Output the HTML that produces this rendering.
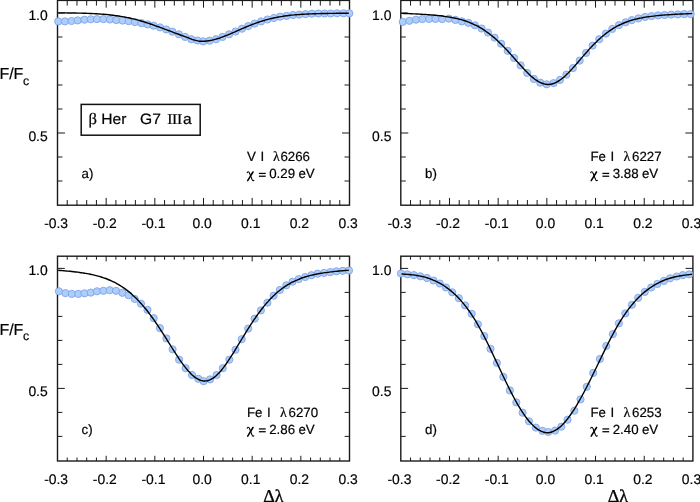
<!DOCTYPE html>
<html><head><meta charset="utf-8"><style>
html,body{margin:0;padding:0;background:#fff;width:700px;height:502px;overflow:hidden}
svg{display:block;will-change:transform}
text{fill:#000;stroke:#000;stroke-width:0.2px;text-rendering:geometricPrecision}
</style></head><body>
<svg width="700" height="502" viewBox="0 0 700 502">
<line x1="67.23" y1="205.20" x2="67.23" y2="200.00" stroke="#1a1a1a" stroke-width="1.0"/>
<line x1="67.23" y1="0.40" x2="67.23" y2="5.60" stroke="#1a1a1a" stroke-width="1.0"/>
<line x1="76.97" y1="205.20" x2="76.97" y2="200.00" stroke="#1a1a1a" stroke-width="1.0"/>
<line x1="76.97" y1="0.40" x2="76.97" y2="5.60" stroke="#1a1a1a" stroke-width="1.0"/>
<line x1="86.70" y1="205.20" x2="86.70" y2="200.00" stroke="#1a1a1a" stroke-width="1.0"/>
<line x1="86.70" y1="0.40" x2="86.70" y2="5.60" stroke="#1a1a1a" stroke-width="1.0"/>
<line x1="96.43" y1="205.20" x2="96.43" y2="200.00" stroke="#1a1a1a" stroke-width="1.0"/>
<line x1="96.43" y1="0.40" x2="96.43" y2="5.60" stroke="#1a1a1a" stroke-width="1.0"/>
<line x1="106.17" y1="205.20" x2="106.17" y2="197.90" stroke="#1a1a1a" stroke-width="1.0"/>
<line x1="106.17" y1="0.40" x2="106.17" y2="7.70" stroke="#1a1a1a" stroke-width="1.0"/>
<line x1="115.90" y1="205.20" x2="115.90" y2="200.00" stroke="#1a1a1a" stroke-width="1.0"/>
<line x1="115.90" y1="0.40" x2="115.90" y2="5.60" stroke="#1a1a1a" stroke-width="1.0"/>
<line x1="125.63" y1="205.20" x2="125.63" y2="200.00" stroke="#1a1a1a" stroke-width="1.0"/>
<line x1="125.63" y1="0.40" x2="125.63" y2="5.60" stroke="#1a1a1a" stroke-width="1.0"/>
<line x1="135.37" y1="205.20" x2="135.37" y2="200.00" stroke="#1a1a1a" stroke-width="1.0"/>
<line x1="135.37" y1="0.40" x2="135.37" y2="5.60" stroke="#1a1a1a" stroke-width="1.0"/>
<line x1="145.10" y1="205.20" x2="145.10" y2="200.00" stroke="#1a1a1a" stroke-width="1.0"/>
<line x1="145.10" y1="0.40" x2="145.10" y2="5.60" stroke="#1a1a1a" stroke-width="1.0"/>
<line x1="154.83" y1="205.20" x2="154.83" y2="197.90" stroke="#1a1a1a" stroke-width="1.0"/>
<line x1="154.83" y1="0.40" x2="154.83" y2="7.70" stroke="#1a1a1a" stroke-width="1.0"/>
<line x1="164.57" y1="205.20" x2="164.57" y2="200.00" stroke="#1a1a1a" stroke-width="1.0"/>
<line x1="164.57" y1="0.40" x2="164.57" y2="5.60" stroke="#1a1a1a" stroke-width="1.0"/>
<line x1="174.30" y1="205.20" x2="174.30" y2="200.00" stroke="#1a1a1a" stroke-width="1.0"/>
<line x1="174.30" y1="0.40" x2="174.30" y2="5.60" stroke="#1a1a1a" stroke-width="1.0"/>
<line x1="184.03" y1="205.20" x2="184.03" y2="200.00" stroke="#1a1a1a" stroke-width="1.0"/>
<line x1="184.03" y1="0.40" x2="184.03" y2="5.60" stroke="#1a1a1a" stroke-width="1.0"/>
<line x1="193.77" y1="205.20" x2="193.77" y2="200.00" stroke="#1a1a1a" stroke-width="1.0"/>
<line x1="193.77" y1="0.40" x2="193.77" y2="5.60" stroke="#1a1a1a" stroke-width="1.0"/>
<line x1="203.50" y1="205.20" x2="203.50" y2="197.90" stroke="#1a1a1a" stroke-width="1.0"/>
<line x1="203.50" y1="0.40" x2="203.50" y2="7.70" stroke="#1a1a1a" stroke-width="1.0"/>
<line x1="213.23" y1="205.20" x2="213.23" y2="200.00" stroke="#1a1a1a" stroke-width="1.0"/>
<line x1="213.23" y1="0.40" x2="213.23" y2="5.60" stroke="#1a1a1a" stroke-width="1.0"/>
<line x1="222.97" y1="205.20" x2="222.97" y2="200.00" stroke="#1a1a1a" stroke-width="1.0"/>
<line x1="222.97" y1="0.40" x2="222.97" y2="5.60" stroke="#1a1a1a" stroke-width="1.0"/>
<line x1="232.70" y1="205.20" x2="232.70" y2="200.00" stroke="#1a1a1a" stroke-width="1.0"/>
<line x1="232.70" y1="0.40" x2="232.70" y2="5.60" stroke="#1a1a1a" stroke-width="1.0"/>
<line x1="242.43" y1="205.20" x2="242.43" y2="200.00" stroke="#1a1a1a" stroke-width="1.0"/>
<line x1="242.43" y1="0.40" x2="242.43" y2="5.60" stroke="#1a1a1a" stroke-width="1.0"/>
<line x1="252.17" y1="205.20" x2="252.17" y2="197.90" stroke="#1a1a1a" stroke-width="1.0"/>
<line x1="252.17" y1="0.40" x2="252.17" y2="7.70" stroke="#1a1a1a" stroke-width="1.0"/>
<line x1="261.90" y1="205.20" x2="261.90" y2="200.00" stroke="#1a1a1a" stroke-width="1.0"/>
<line x1="261.90" y1="0.40" x2="261.90" y2="5.60" stroke="#1a1a1a" stroke-width="1.0"/>
<line x1="271.63" y1="205.20" x2="271.63" y2="200.00" stroke="#1a1a1a" stroke-width="1.0"/>
<line x1="271.63" y1="0.40" x2="271.63" y2="5.60" stroke="#1a1a1a" stroke-width="1.0"/>
<line x1="281.37" y1="205.20" x2="281.37" y2="200.00" stroke="#1a1a1a" stroke-width="1.0"/>
<line x1="281.37" y1="0.40" x2="281.37" y2="5.60" stroke="#1a1a1a" stroke-width="1.0"/>
<line x1="291.10" y1="205.20" x2="291.10" y2="200.00" stroke="#1a1a1a" stroke-width="1.0"/>
<line x1="291.10" y1="0.40" x2="291.10" y2="5.60" stroke="#1a1a1a" stroke-width="1.0"/>
<line x1="300.83" y1="205.20" x2="300.83" y2="197.90" stroke="#1a1a1a" stroke-width="1.0"/>
<line x1="300.83" y1="0.40" x2="300.83" y2="7.70" stroke="#1a1a1a" stroke-width="1.0"/>
<line x1="310.57" y1="205.20" x2="310.57" y2="200.00" stroke="#1a1a1a" stroke-width="1.0"/>
<line x1="310.57" y1="0.40" x2="310.57" y2="5.60" stroke="#1a1a1a" stroke-width="1.0"/>
<line x1="320.30" y1="205.20" x2="320.30" y2="200.00" stroke="#1a1a1a" stroke-width="1.0"/>
<line x1="320.30" y1="0.40" x2="320.30" y2="5.60" stroke="#1a1a1a" stroke-width="1.0"/>
<line x1="330.03" y1="205.20" x2="330.03" y2="200.00" stroke="#1a1a1a" stroke-width="1.0"/>
<line x1="330.03" y1="0.40" x2="330.03" y2="5.60" stroke="#1a1a1a" stroke-width="1.0"/>
<line x1="339.77" y1="205.20" x2="339.77" y2="200.00" stroke="#1a1a1a" stroke-width="1.0"/>
<line x1="339.77" y1="0.40" x2="339.77" y2="5.60" stroke="#1a1a1a" stroke-width="1.0"/>
<line x1="57.50" y1="181.00" x2="62.50" y2="181.00" stroke="#1a1a1a" stroke-width="1.0"/>
<line x1="349.50" y1="181.00" x2="344.50" y2="181.00" stroke="#1a1a1a" stroke-width="1.0"/>
<line x1="57.50" y1="157.00" x2="62.50" y2="157.00" stroke="#1a1a1a" stroke-width="1.0"/>
<line x1="349.50" y1="157.00" x2="344.50" y2="157.00" stroke="#1a1a1a" stroke-width="1.0"/>
<line x1="57.50" y1="133.00" x2="65.00" y2="133.00" stroke="#1a1a1a" stroke-width="1.0"/>
<line x1="349.50" y1="133.00" x2="342.00" y2="133.00" stroke="#1a1a1a" stroke-width="1.0"/>
<line x1="57.50" y1="109.00" x2="62.50" y2="109.00" stroke="#1a1a1a" stroke-width="1.0"/>
<line x1="349.50" y1="109.00" x2="344.50" y2="109.00" stroke="#1a1a1a" stroke-width="1.0"/>
<line x1="57.50" y1="85.00" x2="62.50" y2="85.00" stroke="#1a1a1a" stroke-width="1.0"/>
<line x1="349.50" y1="85.00" x2="344.50" y2="85.00" stroke="#1a1a1a" stroke-width="1.0"/>
<line x1="57.50" y1="61.00" x2="62.50" y2="61.00" stroke="#1a1a1a" stroke-width="1.0"/>
<line x1="349.50" y1="61.00" x2="344.50" y2="61.00" stroke="#1a1a1a" stroke-width="1.0"/>
<line x1="57.50" y1="37.00" x2="62.50" y2="37.00" stroke="#1a1a1a" stroke-width="1.0"/>
<line x1="349.50" y1="37.00" x2="344.50" y2="37.00" stroke="#1a1a1a" stroke-width="1.0"/>
<line x1="57.50" y1="13.00" x2="65.00" y2="13.00" stroke="#1a1a1a" stroke-width="1.0"/>
<line x1="349.50" y1="13.00" x2="342.00" y2="13.00" stroke="#1a1a1a" stroke-width="1.0"/>
<rect x="57.50" y="0.40" width="292.00" height="204.80" fill="none" stroke="#1a1a1a" stroke-width="1.4"/>
<line x1="410.54" y1="205.20" x2="410.54" y2="200.00" stroke="#1a1a1a" stroke-width="1.0"/>
<line x1="410.54" y1="0.40" x2="410.54" y2="5.60" stroke="#1a1a1a" stroke-width="1.0"/>
<line x1="420.27" y1="205.20" x2="420.27" y2="200.00" stroke="#1a1a1a" stroke-width="1.0"/>
<line x1="420.27" y1="0.40" x2="420.27" y2="5.60" stroke="#1a1a1a" stroke-width="1.0"/>
<line x1="430.01" y1="205.20" x2="430.01" y2="200.00" stroke="#1a1a1a" stroke-width="1.0"/>
<line x1="430.01" y1="0.40" x2="430.01" y2="5.60" stroke="#1a1a1a" stroke-width="1.0"/>
<line x1="439.75" y1="205.20" x2="439.75" y2="200.00" stroke="#1a1a1a" stroke-width="1.0"/>
<line x1="439.75" y1="0.40" x2="439.75" y2="5.60" stroke="#1a1a1a" stroke-width="1.0"/>
<line x1="449.48" y1="205.20" x2="449.48" y2="197.90" stroke="#1a1a1a" stroke-width="1.0"/>
<line x1="449.48" y1="0.40" x2="449.48" y2="7.70" stroke="#1a1a1a" stroke-width="1.0"/>
<line x1="459.22" y1="205.20" x2="459.22" y2="200.00" stroke="#1a1a1a" stroke-width="1.0"/>
<line x1="459.22" y1="0.40" x2="459.22" y2="5.60" stroke="#1a1a1a" stroke-width="1.0"/>
<line x1="468.96" y1="205.20" x2="468.96" y2="200.00" stroke="#1a1a1a" stroke-width="1.0"/>
<line x1="468.96" y1="0.40" x2="468.96" y2="5.60" stroke="#1a1a1a" stroke-width="1.0"/>
<line x1="478.69" y1="205.20" x2="478.69" y2="200.00" stroke="#1a1a1a" stroke-width="1.0"/>
<line x1="478.69" y1="0.40" x2="478.69" y2="5.60" stroke="#1a1a1a" stroke-width="1.0"/>
<line x1="488.43" y1="205.20" x2="488.43" y2="200.00" stroke="#1a1a1a" stroke-width="1.0"/>
<line x1="488.43" y1="0.40" x2="488.43" y2="5.60" stroke="#1a1a1a" stroke-width="1.0"/>
<line x1="498.17" y1="205.20" x2="498.17" y2="197.90" stroke="#1a1a1a" stroke-width="1.0"/>
<line x1="498.17" y1="0.40" x2="498.17" y2="7.70" stroke="#1a1a1a" stroke-width="1.0"/>
<line x1="507.90" y1="205.20" x2="507.90" y2="200.00" stroke="#1a1a1a" stroke-width="1.0"/>
<line x1="507.90" y1="0.40" x2="507.90" y2="5.60" stroke="#1a1a1a" stroke-width="1.0"/>
<line x1="517.64" y1="205.20" x2="517.64" y2="200.00" stroke="#1a1a1a" stroke-width="1.0"/>
<line x1="517.64" y1="0.40" x2="517.64" y2="5.60" stroke="#1a1a1a" stroke-width="1.0"/>
<line x1="527.38" y1="205.20" x2="527.38" y2="200.00" stroke="#1a1a1a" stroke-width="1.0"/>
<line x1="527.38" y1="0.40" x2="527.38" y2="5.60" stroke="#1a1a1a" stroke-width="1.0"/>
<line x1="537.11" y1="205.20" x2="537.11" y2="200.00" stroke="#1a1a1a" stroke-width="1.0"/>
<line x1="537.11" y1="0.40" x2="537.11" y2="5.60" stroke="#1a1a1a" stroke-width="1.0"/>
<line x1="546.85" y1="205.20" x2="546.85" y2="197.90" stroke="#1a1a1a" stroke-width="1.0"/>
<line x1="546.85" y1="0.40" x2="546.85" y2="7.70" stroke="#1a1a1a" stroke-width="1.0"/>
<line x1="556.59" y1="205.20" x2="556.59" y2="200.00" stroke="#1a1a1a" stroke-width="1.0"/>
<line x1="556.59" y1="0.40" x2="556.59" y2="5.60" stroke="#1a1a1a" stroke-width="1.0"/>
<line x1="566.32" y1="205.20" x2="566.32" y2="200.00" stroke="#1a1a1a" stroke-width="1.0"/>
<line x1="566.32" y1="0.40" x2="566.32" y2="5.60" stroke="#1a1a1a" stroke-width="1.0"/>
<line x1="576.06" y1="205.20" x2="576.06" y2="200.00" stroke="#1a1a1a" stroke-width="1.0"/>
<line x1="576.06" y1="0.40" x2="576.06" y2="5.60" stroke="#1a1a1a" stroke-width="1.0"/>
<line x1="585.80" y1="205.20" x2="585.80" y2="200.00" stroke="#1a1a1a" stroke-width="1.0"/>
<line x1="585.80" y1="0.40" x2="585.80" y2="5.60" stroke="#1a1a1a" stroke-width="1.0"/>
<line x1="595.53" y1="205.20" x2="595.53" y2="197.90" stroke="#1a1a1a" stroke-width="1.0"/>
<line x1="595.53" y1="0.40" x2="595.53" y2="7.70" stroke="#1a1a1a" stroke-width="1.0"/>
<line x1="605.27" y1="205.20" x2="605.27" y2="200.00" stroke="#1a1a1a" stroke-width="1.0"/>
<line x1="605.27" y1="0.40" x2="605.27" y2="5.60" stroke="#1a1a1a" stroke-width="1.0"/>
<line x1="615.01" y1="205.20" x2="615.01" y2="200.00" stroke="#1a1a1a" stroke-width="1.0"/>
<line x1="615.01" y1="0.40" x2="615.01" y2="5.60" stroke="#1a1a1a" stroke-width="1.0"/>
<line x1="624.74" y1="205.20" x2="624.74" y2="200.00" stroke="#1a1a1a" stroke-width="1.0"/>
<line x1="624.74" y1="0.40" x2="624.74" y2="5.60" stroke="#1a1a1a" stroke-width="1.0"/>
<line x1="634.48" y1="205.20" x2="634.48" y2="200.00" stroke="#1a1a1a" stroke-width="1.0"/>
<line x1="634.48" y1="0.40" x2="634.48" y2="5.60" stroke="#1a1a1a" stroke-width="1.0"/>
<line x1="644.22" y1="205.20" x2="644.22" y2="197.90" stroke="#1a1a1a" stroke-width="1.0"/>
<line x1="644.22" y1="0.40" x2="644.22" y2="7.70" stroke="#1a1a1a" stroke-width="1.0"/>
<line x1="653.95" y1="205.20" x2="653.95" y2="200.00" stroke="#1a1a1a" stroke-width="1.0"/>
<line x1="653.95" y1="0.40" x2="653.95" y2="5.60" stroke="#1a1a1a" stroke-width="1.0"/>
<line x1="663.69" y1="205.20" x2="663.69" y2="200.00" stroke="#1a1a1a" stroke-width="1.0"/>
<line x1="663.69" y1="0.40" x2="663.69" y2="5.60" stroke="#1a1a1a" stroke-width="1.0"/>
<line x1="673.43" y1="205.20" x2="673.43" y2="200.00" stroke="#1a1a1a" stroke-width="1.0"/>
<line x1="673.43" y1="0.40" x2="673.43" y2="5.60" stroke="#1a1a1a" stroke-width="1.0"/>
<line x1="683.16" y1="205.20" x2="683.16" y2="200.00" stroke="#1a1a1a" stroke-width="1.0"/>
<line x1="683.16" y1="0.40" x2="683.16" y2="5.60" stroke="#1a1a1a" stroke-width="1.0"/>
<line x1="400.80" y1="181.00" x2="405.80" y2="181.00" stroke="#1a1a1a" stroke-width="1.0"/>
<line x1="692.90" y1="181.00" x2="687.90" y2="181.00" stroke="#1a1a1a" stroke-width="1.0"/>
<line x1="400.80" y1="157.00" x2="405.80" y2="157.00" stroke="#1a1a1a" stroke-width="1.0"/>
<line x1="692.90" y1="157.00" x2="687.90" y2="157.00" stroke="#1a1a1a" stroke-width="1.0"/>
<line x1="400.80" y1="133.00" x2="408.30" y2="133.00" stroke="#1a1a1a" stroke-width="1.0"/>
<line x1="692.90" y1="133.00" x2="685.40" y2="133.00" stroke="#1a1a1a" stroke-width="1.0"/>
<line x1="400.80" y1="109.00" x2="405.80" y2="109.00" stroke="#1a1a1a" stroke-width="1.0"/>
<line x1="692.90" y1="109.00" x2="687.90" y2="109.00" stroke="#1a1a1a" stroke-width="1.0"/>
<line x1="400.80" y1="85.00" x2="405.80" y2="85.00" stroke="#1a1a1a" stroke-width="1.0"/>
<line x1="692.90" y1="85.00" x2="687.90" y2="85.00" stroke="#1a1a1a" stroke-width="1.0"/>
<line x1="400.80" y1="61.00" x2="405.80" y2="61.00" stroke="#1a1a1a" stroke-width="1.0"/>
<line x1="692.90" y1="61.00" x2="687.90" y2="61.00" stroke="#1a1a1a" stroke-width="1.0"/>
<line x1="400.80" y1="37.00" x2="405.80" y2="37.00" stroke="#1a1a1a" stroke-width="1.0"/>
<line x1="692.90" y1="37.00" x2="687.90" y2="37.00" stroke="#1a1a1a" stroke-width="1.0"/>
<line x1="400.80" y1="13.00" x2="408.30" y2="13.00" stroke="#1a1a1a" stroke-width="1.0"/>
<line x1="692.90" y1="13.00" x2="685.40" y2="13.00" stroke="#1a1a1a" stroke-width="1.0"/>
<rect x="400.80" y="0.40" width="292.10" height="204.80" fill="none" stroke="#1a1a1a" stroke-width="1.4"/>
<line x1="67.23" y1="461.00" x2="67.23" y2="457.50" stroke="#1a1a1a" stroke-width="1.0"/>
<line x1="67.23" y1="256.20" x2="67.23" y2="259.70" stroke="#1a1a1a" stroke-width="1.0"/>
<line x1="76.97" y1="461.00" x2="76.97" y2="457.50" stroke="#1a1a1a" stroke-width="1.0"/>
<line x1="76.97" y1="256.20" x2="76.97" y2="259.70" stroke="#1a1a1a" stroke-width="1.0"/>
<line x1="86.70" y1="461.00" x2="86.70" y2="457.50" stroke="#1a1a1a" stroke-width="1.0"/>
<line x1="86.70" y1="256.20" x2="86.70" y2="259.70" stroke="#1a1a1a" stroke-width="1.0"/>
<line x1="96.43" y1="461.00" x2="96.43" y2="457.50" stroke="#1a1a1a" stroke-width="1.0"/>
<line x1="96.43" y1="256.20" x2="96.43" y2="259.70" stroke="#1a1a1a" stroke-width="1.0"/>
<line x1="106.17" y1="461.00" x2="106.17" y2="455.80" stroke="#1a1a1a" stroke-width="1.0"/>
<line x1="106.17" y1="256.20" x2="106.17" y2="261.40" stroke="#1a1a1a" stroke-width="1.0"/>
<line x1="115.90" y1="461.00" x2="115.90" y2="457.50" stroke="#1a1a1a" stroke-width="1.0"/>
<line x1="115.90" y1="256.20" x2="115.90" y2="259.70" stroke="#1a1a1a" stroke-width="1.0"/>
<line x1="125.63" y1="461.00" x2="125.63" y2="457.50" stroke="#1a1a1a" stroke-width="1.0"/>
<line x1="125.63" y1="256.20" x2="125.63" y2="259.70" stroke="#1a1a1a" stroke-width="1.0"/>
<line x1="135.37" y1="461.00" x2="135.37" y2="457.50" stroke="#1a1a1a" stroke-width="1.0"/>
<line x1="135.37" y1="256.20" x2="135.37" y2="259.70" stroke="#1a1a1a" stroke-width="1.0"/>
<line x1="145.10" y1="461.00" x2="145.10" y2="457.50" stroke="#1a1a1a" stroke-width="1.0"/>
<line x1="145.10" y1="256.20" x2="145.10" y2="259.70" stroke="#1a1a1a" stroke-width="1.0"/>
<line x1="154.83" y1="461.00" x2="154.83" y2="455.80" stroke="#1a1a1a" stroke-width="1.0"/>
<line x1="154.83" y1="256.20" x2="154.83" y2="261.40" stroke="#1a1a1a" stroke-width="1.0"/>
<line x1="164.57" y1="461.00" x2="164.57" y2="457.50" stroke="#1a1a1a" stroke-width="1.0"/>
<line x1="164.57" y1="256.20" x2="164.57" y2="259.70" stroke="#1a1a1a" stroke-width="1.0"/>
<line x1="174.30" y1="461.00" x2="174.30" y2="457.50" stroke="#1a1a1a" stroke-width="1.0"/>
<line x1="174.30" y1="256.20" x2="174.30" y2="259.70" stroke="#1a1a1a" stroke-width="1.0"/>
<line x1="184.03" y1="461.00" x2="184.03" y2="457.50" stroke="#1a1a1a" stroke-width="1.0"/>
<line x1="184.03" y1="256.20" x2="184.03" y2="259.70" stroke="#1a1a1a" stroke-width="1.0"/>
<line x1="193.77" y1="461.00" x2="193.77" y2="457.50" stroke="#1a1a1a" stroke-width="1.0"/>
<line x1="193.77" y1="256.20" x2="193.77" y2="259.70" stroke="#1a1a1a" stroke-width="1.0"/>
<line x1="203.50" y1="461.00" x2="203.50" y2="455.80" stroke="#1a1a1a" stroke-width="1.0"/>
<line x1="203.50" y1="256.20" x2="203.50" y2="261.40" stroke="#1a1a1a" stroke-width="1.0"/>
<line x1="213.23" y1="461.00" x2="213.23" y2="457.50" stroke="#1a1a1a" stroke-width="1.0"/>
<line x1="213.23" y1="256.20" x2="213.23" y2="259.70" stroke="#1a1a1a" stroke-width="1.0"/>
<line x1="222.97" y1="461.00" x2="222.97" y2="457.50" stroke="#1a1a1a" stroke-width="1.0"/>
<line x1="222.97" y1="256.20" x2="222.97" y2="259.70" stroke="#1a1a1a" stroke-width="1.0"/>
<line x1="232.70" y1="461.00" x2="232.70" y2="457.50" stroke="#1a1a1a" stroke-width="1.0"/>
<line x1="232.70" y1="256.20" x2="232.70" y2="259.70" stroke="#1a1a1a" stroke-width="1.0"/>
<line x1="242.43" y1="461.00" x2="242.43" y2="457.50" stroke="#1a1a1a" stroke-width="1.0"/>
<line x1="242.43" y1="256.20" x2="242.43" y2="259.70" stroke="#1a1a1a" stroke-width="1.0"/>
<line x1="252.17" y1="461.00" x2="252.17" y2="455.80" stroke="#1a1a1a" stroke-width="1.0"/>
<line x1="252.17" y1="256.20" x2="252.17" y2="261.40" stroke="#1a1a1a" stroke-width="1.0"/>
<line x1="261.90" y1="461.00" x2="261.90" y2="457.50" stroke="#1a1a1a" stroke-width="1.0"/>
<line x1="261.90" y1="256.20" x2="261.90" y2="259.70" stroke="#1a1a1a" stroke-width="1.0"/>
<line x1="271.63" y1="461.00" x2="271.63" y2="457.50" stroke="#1a1a1a" stroke-width="1.0"/>
<line x1="271.63" y1="256.20" x2="271.63" y2="259.70" stroke="#1a1a1a" stroke-width="1.0"/>
<line x1="281.37" y1="461.00" x2="281.37" y2="457.50" stroke="#1a1a1a" stroke-width="1.0"/>
<line x1="281.37" y1="256.20" x2="281.37" y2="259.70" stroke="#1a1a1a" stroke-width="1.0"/>
<line x1="291.10" y1="461.00" x2="291.10" y2="457.50" stroke="#1a1a1a" stroke-width="1.0"/>
<line x1="291.10" y1="256.20" x2="291.10" y2="259.70" stroke="#1a1a1a" stroke-width="1.0"/>
<line x1="300.83" y1="461.00" x2="300.83" y2="455.80" stroke="#1a1a1a" stroke-width="1.0"/>
<line x1="300.83" y1="256.20" x2="300.83" y2="261.40" stroke="#1a1a1a" stroke-width="1.0"/>
<line x1="310.57" y1="461.00" x2="310.57" y2="457.50" stroke="#1a1a1a" stroke-width="1.0"/>
<line x1="310.57" y1="256.20" x2="310.57" y2="259.70" stroke="#1a1a1a" stroke-width="1.0"/>
<line x1="320.30" y1="461.00" x2="320.30" y2="457.50" stroke="#1a1a1a" stroke-width="1.0"/>
<line x1="320.30" y1="256.20" x2="320.30" y2="259.70" stroke="#1a1a1a" stroke-width="1.0"/>
<line x1="330.03" y1="461.00" x2="330.03" y2="457.50" stroke="#1a1a1a" stroke-width="1.0"/>
<line x1="330.03" y1="256.20" x2="330.03" y2="259.70" stroke="#1a1a1a" stroke-width="1.0"/>
<line x1="339.77" y1="461.00" x2="339.77" y2="457.50" stroke="#1a1a1a" stroke-width="1.0"/>
<line x1="339.77" y1="256.20" x2="339.77" y2="259.70" stroke="#1a1a1a" stroke-width="1.0"/>
<line x1="57.50" y1="436.40" x2="62.40" y2="436.40" stroke="#1a1a1a" stroke-width="1.0"/>
<line x1="349.50" y1="436.40" x2="344.60" y2="436.40" stroke="#1a1a1a" stroke-width="1.0"/>
<line x1="57.50" y1="412.40" x2="62.40" y2="412.40" stroke="#1a1a1a" stroke-width="1.0"/>
<line x1="349.50" y1="412.40" x2="344.60" y2="412.40" stroke="#1a1a1a" stroke-width="1.0"/>
<line x1="57.50" y1="388.40" x2="64.80" y2="388.40" stroke="#1a1a1a" stroke-width="1.0"/>
<line x1="349.50" y1="388.40" x2="342.20" y2="388.40" stroke="#1a1a1a" stroke-width="1.0"/>
<line x1="57.50" y1="364.40" x2="62.40" y2="364.40" stroke="#1a1a1a" stroke-width="1.0"/>
<line x1="349.50" y1="364.40" x2="344.60" y2="364.40" stroke="#1a1a1a" stroke-width="1.0"/>
<line x1="57.50" y1="340.40" x2="62.40" y2="340.40" stroke="#1a1a1a" stroke-width="1.0"/>
<line x1="349.50" y1="340.40" x2="344.60" y2="340.40" stroke="#1a1a1a" stroke-width="1.0"/>
<line x1="57.50" y1="316.40" x2="62.40" y2="316.40" stroke="#1a1a1a" stroke-width="1.0"/>
<line x1="349.50" y1="316.40" x2="344.60" y2="316.40" stroke="#1a1a1a" stroke-width="1.0"/>
<line x1="57.50" y1="292.40" x2="62.40" y2="292.40" stroke="#1a1a1a" stroke-width="1.0"/>
<line x1="349.50" y1="292.40" x2="344.60" y2="292.40" stroke="#1a1a1a" stroke-width="1.0"/>
<line x1="57.50" y1="268.40" x2="64.80" y2="268.40" stroke="#1a1a1a" stroke-width="1.0"/>
<line x1="349.50" y1="268.40" x2="342.20" y2="268.40" stroke="#1a1a1a" stroke-width="1.0"/>
<rect x="57.50" y="256.20" width="292.00" height="204.80" fill="none" stroke="#1a1a1a" stroke-width="1.4"/>
<line x1="410.54" y1="461.00" x2="410.54" y2="457.50" stroke="#1a1a1a" stroke-width="1.0"/>
<line x1="410.54" y1="256.20" x2="410.54" y2="259.70" stroke="#1a1a1a" stroke-width="1.0"/>
<line x1="420.27" y1="461.00" x2="420.27" y2="457.50" stroke="#1a1a1a" stroke-width="1.0"/>
<line x1="420.27" y1="256.20" x2="420.27" y2="259.70" stroke="#1a1a1a" stroke-width="1.0"/>
<line x1="430.01" y1="461.00" x2="430.01" y2="457.50" stroke="#1a1a1a" stroke-width="1.0"/>
<line x1="430.01" y1="256.20" x2="430.01" y2="259.70" stroke="#1a1a1a" stroke-width="1.0"/>
<line x1="439.75" y1="461.00" x2="439.75" y2="457.50" stroke="#1a1a1a" stroke-width="1.0"/>
<line x1="439.75" y1="256.20" x2="439.75" y2="259.70" stroke="#1a1a1a" stroke-width="1.0"/>
<line x1="449.48" y1="461.00" x2="449.48" y2="455.80" stroke="#1a1a1a" stroke-width="1.0"/>
<line x1="449.48" y1="256.20" x2="449.48" y2="261.40" stroke="#1a1a1a" stroke-width="1.0"/>
<line x1="459.22" y1="461.00" x2="459.22" y2="457.50" stroke="#1a1a1a" stroke-width="1.0"/>
<line x1="459.22" y1="256.20" x2="459.22" y2="259.70" stroke="#1a1a1a" stroke-width="1.0"/>
<line x1="468.96" y1="461.00" x2="468.96" y2="457.50" stroke="#1a1a1a" stroke-width="1.0"/>
<line x1="468.96" y1="256.20" x2="468.96" y2="259.70" stroke="#1a1a1a" stroke-width="1.0"/>
<line x1="478.69" y1="461.00" x2="478.69" y2="457.50" stroke="#1a1a1a" stroke-width="1.0"/>
<line x1="478.69" y1="256.20" x2="478.69" y2="259.70" stroke="#1a1a1a" stroke-width="1.0"/>
<line x1="488.43" y1="461.00" x2="488.43" y2="457.50" stroke="#1a1a1a" stroke-width="1.0"/>
<line x1="488.43" y1="256.20" x2="488.43" y2="259.70" stroke="#1a1a1a" stroke-width="1.0"/>
<line x1="498.17" y1="461.00" x2="498.17" y2="455.80" stroke="#1a1a1a" stroke-width="1.0"/>
<line x1="498.17" y1="256.20" x2="498.17" y2="261.40" stroke="#1a1a1a" stroke-width="1.0"/>
<line x1="507.90" y1="461.00" x2="507.90" y2="457.50" stroke="#1a1a1a" stroke-width="1.0"/>
<line x1="507.90" y1="256.20" x2="507.90" y2="259.70" stroke="#1a1a1a" stroke-width="1.0"/>
<line x1="517.64" y1="461.00" x2="517.64" y2="457.50" stroke="#1a1a1a" stroke-width="1.0"/>
<line x1="517.64" y1="256.20" x2="517.64" y2="259.70" stroke="#1a1a1a" stroke-width="1.0"/>
<line x1="527.38" y1="461.00" x2="527.38" y2="457.50" stroke="#1a1a1a" stroke-width="1.0"/>
<line x1="527.38" y1="256.20" x2="527.38" y2="259.70" stroke="#1a1a1a" stroke-width="1.0"/>
<line x1="537.11" y1="461.00" x2="537.11" y2="457.50" stroke="#1a1a1a" stroke-width="1.0"/>
<line x1="537.11" y1="256.20" x2="537.11" y2="259.70" stroke="#1a1a1a" stroke-width="1.0"/>
<line x1="546.85" y1="461.00" x2="546.85" y2="455.80" stroke="#1a1a1a" stroke-width="1.0"/>
<line x1="546.85" y1="256.20" x2="546.85" y2="261.40" stroke="#1a1a1a" stroke-width="1.0"/>
<line x1="556.59" y1="461.00" x2="556.59" y2="457.50" stroke="#1a1a1a" stroke-width="1.0"/>
<line x1="556.59" y1="256.20" x2="556.59" y2="259.70" stroke="#1a1a1a" stroke-width="1.0"/>
<line x1="566.32" y1="461.00" x2="566.32" y2="457.50" stroke="#1a1a1a" stroke-width="1.0"/>
<line x1="566.32" y1="256.20" x2="566.32" y2="259.70" stroke="#1a1a1a" stroke-width="1.0"/>
<line x1="576.06" y1="461.00" x2="576.06" y2="457.50" stroke="#1a1a1a" stroke-width="1.0"/>
<line x1="576.06" y1="256.20" x2="576.06" y2="259.70" stroke="#1a1a1a" stroke-width="1.0"/>
<line x1="585.80" y1="461.00" x2="585.80" y2="457.50" stroke="#1a1a1a" stroke-width="1.0"/>
<line x1="585.80" y1="256.20" x2="585.80" y2="259.70" stroke="#1a1a1a" stroke-width="1.0"/>
<line x1="595.53" y1="461.00" x2="595.53" y2="455.80" stroke="#1a1a1a" stroke-width="1.0"/>
<line x1="595.53" y1="256.20" x2="595.53" y2="261.40" stroke="#1a1a1a" stroke-width="1.0"/>
<line x1="605.27" y1="461.00" x2="605.27" y2="457.50" stroke="#1a1a1a" stroke-width="1.0"/>
<line x1="605.27" y1="256.20" x2="605.27" y2="259.70" stroke="#1a1a1a" stroke-width="1.0"/>
<line x1="615.01" y1="461.00" x2="615.01" y2="457.50" stroke="#1a1a1a" stroke-width="1.0"/>
<line x1="615.01" y1="256.20" x2="615.01" y2="259.70" stroke="#1a1a1a" stroke-width="1.0"/>
<line x1="624.74" y1="461.00" x2="624.74" y2="457.50" stroke="#1a1a1a" stroke-width="1.0"/>
<line x1="624.74" y1="256.20" x2="624.74" y2="259.70" stroke="#1a1a1a" stroke-width="1.0"/>
<line x1="634.48" y1="461.00" x2="634.48" y2="457.50" stroke="#1a1a1a" stroke-width="1.0"/>
<line x1="634.48" y1="256.20" x2="634.48" y2="259.70" stroke="#1a1a1a" stroke-width="1.0"/>
<line x1="644.22" y1="461.00" x2="644.22" y2="455.80" stroke="#1a1a1a" stroke-width="1.0"/>
<line x1="644.22" y1="256.20" x2="644.22" y2="261.40" stroke="#1a1a1a" stroke-width="1.0"/>
<line x1="653.95" y1="461.00" x2="653.95" y2="457.50" stroke="#1a1a1a" stroke-width="1.0"/>
<line x1="653.95" y1="256.20" x2="653.95" y2="259.70" stroke="#1a1a1a" stroke-width="1.0"/>
<line x1="663.69" y1="461.00" x2="663.69" y2="457.50" stroke="#1a1a1a" stroke-width="1.0"/>
<line x1="663.69" y1="256.20" x2="663.69" y2="259.70" stroke="#1a1a1a" stroke-width="1.0"/>
<line x1="673.43" y1="461.00" x2="673.43" y2="457.50" stroke="#1a1a1a" stroke-width="1.0"/>
<line x1="673.43" y1="256.20" x2="673.43" y2="259.70" stroke="#1a1a1a" stroke-width="1.0"/>
<line x1="683.16" y1="461.00" x2="683.16" y2="457.50" stroke="#1a1a1a" stroke-width="1.0"/>
<line x1="683.16" y1="256.20" x2="683.16" y2="259.70" stroke="#1a1a1a" stroke-width="1.0"/>
<line x1="400.80" y1="436.40" x2="405.70" y2="436.40" stroke="#1a1a1a" stroke-width="1.0"/>
<line x1="692.90" y1="436.40" x2="688.00" y2="436.40" stroke="#1a1a1a" stroke-width="1.0"/>
<line x1="400.80" y1="412.40" x2="405.70" y2="412.40" stroke="#1a1a1a" stroke-width="1.0"/>
<line x1="692.90" y1="412.40" x2="688.00" y2="412.40" stroke="#1a1a1a" stroke-width="1.0"/>
<line x1="400.80" y1="388.40" x2="408.10" y2="388.40" stroke="#1a1a1a" stroke-width="1.0"/>
<line x1="692.90" y1="388.40" x2="685.60" y2="388.40" stroke="#1a1a1a" stroke-width="1.0"/>
<line x1="400.80" y1="364.40" x2="405.70" y2="364.40" stroke="#1a1a1a" stroke-width="1.0"/>
<line x1="692.90" y1="364.40" x2="688.00" y2="364.40" stroke="#1a1a1a" stroke-width="1.0"/>
<line x1="400.80" y1="340.40" x2="405.70" y2="340.40" stroke="#1a1a1a" stroke-width="1.0"/>
<line x1="692.90" y1="340.40" x2="688.00" y2="340.40" stroke="#1a1a1a" stroke-width="1.0"/>
<line x1="400.80" y1="316.40" x2="405.70" y2="316.40" stroke="#1a1a1a" stroke-width="1.0"/>
<line x1="692.90" y1="316.40" x2="688.00" y2="316.40" stroke="#1a1a1a" stroke-width="1.0"/>
<line x1="400.80" y1="292.40" x2="405.70" y2="292.40" stroke="#1a1a1a" stroke-width="1.0"/>
<line x1="692.90" y1="292.40" x2="688.00" y2="292.40" stroke="#1a1a1a" stroke-width="1.0"/>
<line x1="400.80" y1="268.40" x2="408.10" y2="268.40" stroke="#1a1a1a" stroke-width="1.0"/>
<line x1="692.90" y1="268.40" x2="685.60" y2="268.40" stroke="#1a1a1a" stroke-width="1.0"/>
<rect x="400.80" y="256.20" width="292.10" height="204.80" fill="none" stroke="#1a1a1a" stroke-width="1.4"/>
<circle cx="58.20" cy="21.40" r="3.6" fill="#aecdf9" stroke="#7ea5ea" stroke-width="0.9"/>
<circle cx="64.90" cy="21.40" r="3.6" fill="#aecdf9" stroke="#7ea5ea" stroke-width="0.9"/>
<circle cx="71.50" cy="21.00" r="3.6" fill="#aecdf9" stroke="#7ea5ea" stroke-width="0.9"/>
<circle cx="77.70" cy="20.40" r="3.6" fill="#aecdf9" stroke="#7ea5ea" stroke-width="0.9"/>
<circle cx="84.40" cy="19.70" r="3.6" fill="#aecdf9" stroke="#7ea5ea" stroke-width="0.9"/>
<circle cx="90.80" cy="19.30" r="3.6" fill="#aecdf9" stroke="#7ea5ea" stroke-width="0.9"/>
<circle cx="97.00" cy="19.10" r="3.6" fill="#aecdf9" stroke="#7ea5ea" stroke-width="0.9"/>
<circle cx="103.40" cy="19.10" r="3.6" fill="#aecdf9" stroke="#7ea5ea" stroke-width="0.9"/>
<circle cx="109.90" cy="19.50" r="3.6" fill="#aecdf9" stroke="#7ea5ea" stroke-width="0.9"/>
<circle cx="116.30" cy="20.10" r="3.6" fill="#aecdf9" stroke="#7ea5ea" stroke-width="0.9"/>
<circle cx="122.50" cy="20.60" r="3.6" fill="#aecdf9" stroke="#7ea5ea" stroke-width="0.9"/>
<circle cx="128.70" cy="21.20" r="3.6" fill="#aecdf9" stroke="#7ea5ea" stroke-width="0.9"/>
<circle cx="134.90" cy="22.10" r="3.6" fill="#aecdf9" stroke="#7ea5ea" stroke-width="0.9"/>
<circle cx="141.40" cy="23.10" r="3.6" fill="#aecdf9" stroke="#7ea5ea" stroke-width="0.9"/>
<circle cx="147.60" cy="24.40" r="3.6" fill="#aecdf9" stroke="#7ea5ea" stroke-width="0.9"/>
<circle cx="153.60" cy="25.70" r="3.6" fill="#aecdf9" stroke="#7ea5ea" stroke-width="0.9"/>
<circle cx="160.00" cy="27.40" r="3.6" fill="#aecdf9" stroke="#7ea5ea" stroke-width="0.9"/>
<circle cx="166.20" cy="29.40" r="3.6" fill="#aecdf9" stroke="#7ea5ea" stroke-width="0.9"/>
<circle cx="172.40" cy="31.70" r="3.6" fill="#aecdf9" stroke="#7ea5ea" stroke-width="0.9"/>
<circle cx="178.90" cy="34.30" r="3.6" fill="#aecdf9" stroke="#7ea5ea" stroke-width="0.9"/>
<circle cx="185.10" cy="36.90" r="3.6" fill="#aecdf9" stroke="#7ea5ea" stroke-width="0.9"/>
<circle cx="191.30" cy="39.20" r="3.6" fill="#aecdf9" stroke="#7ea5ea" stroke-width="0.9"/>
<circle cx="197.50" cy="40.50" r="3.6" fill="#aecdf9" stroke="#7ea5ea" stroke-width="0.9"/>
<circle cx="203.20" cy="41.40" r="3.6" fill="#aecdf9" stroke="#7ea5ea" stroke-width="0.9"/>
<circle cx="209.60" cy="40.70" r="3.6" fill="#aecdf9" stroke="#7ea5ea" stroke-width="0.9"/>
<circle cx="216.10" cy="39.20" r="3.6" fill="#aecdf9" stroke="#7ea5ea" stroke-width="0.9"/>
<circle cx="222.50" cy="36.90" r="3.6" fill="#aecdf9" stroke="#7ea5ea" stroke-width="0.9"/>
<circle cx="229.10" cy="34.30" r="3.6" fill="#aecdf9" stroke="#7ea5ea" stroke-width="0.9"/>
<circle cx="235.60" cy="31.50" r="3.6" fill="#aecdf9" stroke="#7ea5ea" stroke-width="0.9"/>
<circle cx="242.00" cy="28.70" r="3.6" fill="#aecdf9" stroke="#7ea5ea" stroke-width="0.9"/>
<circle cx="248.20" cy="26.10" r="3.6" fill="#aecdf9" stroke="#7ea5ea" stroke-width="0.9"/>
<circle cx="254.60" cy="23.60" r="3.6" fill="#aecdf9" stroke="#7ea5ea" stroke-width="0.9"/>
<circle cx="261.10" cy="21.40" r="3.6" fill="#aecdf9" stroke="#7ea5ea" stroke-width="0.9"/>
<circle cx="267.50" cy="19.50" r="3.6" fill="#aecdf9" stroke="#7ea5ea" stroke-width="0.9"/>
<circle cx="273.90" cy="18.00" r="3.6" fill="#aecdf9" stroke="#7ea5ea" stroke-width="0.9"/>
<circle cx="280.10" cy="16.70" r="3.6" fill="#aecdf9" stroke="#7ea5ea" stroke-width="0.9"/>
<circle cx="286.60" cy="15.90" r="3.6" fill="#aecdf9" stroke="#7ea5ea" stroke-width="0.9"/>
<circle cx="293.00" cy="15.00" r="3.6" fill="#aecdf9" stroke="#7ea5ea" stroke-width="0.9"/>
<circle cx="299.20" cy="14.60" r="3.6" fill="#aecdf9" stroke="#7ea5ea" stroke-width="0.9"/>
<circle cx="305.60" cy="14.10" r="3.6" fill="#aecdf9" stroke="#7ea5ea" stroke-width="0.9"/>
<circle cx="311.90" cy="13.70" r="3.6" fill="#aecdf9" stroke="#7ea5ea" stroke-width="0.9"/>
<circle cx="318.30" cy="13.50" r="3.6" fill="#aecdf9" stroke="#7ea5ea" stroke-width="0.9"/>
<circle cx="324.50" cy="13.50" r="3.6" fill="#aecdf9" stroke="#7ea5ea" stroke-width="0.9"/>
<circle cx="330.70" cy="13.50" r="3.6" fill="#aecdf9" stroke="#7ea5ea" stroke-width="0.9"/>
<circle cx="337.10" cy="13.30" r="3.6" fill="#aecdf9" stroke="#7ea5ea" stroke-width="0.9"/>
<circle cx="343.60" cy="13.30" r="3.6" fill="#aecdf9" stroke="#7ea5ea" stroke-width="0.9"/>
<circle cx="349.30" cy="13.30" r="3.6" fill="#aecdf9" stroke="#7ea5ea" stroke-width="0.9"/>
<circle cx="402.70" cy="21.90" r="3.6" fill="#aecdf9" stroke="#7ea5ea" stroke-width="0.9"/>
<circle cx="409.40" cy="20.80" r="3.6" fill="#aecdf9" stroke="#7ea5ea" stroke-width="0.9"/>
<circle cx="416.00" cy="19.70" r="3.6" fill="#aecdf9" stroke="#7ea5ea" stroke-width="0.9"/>
<circle cx="422.40" cy="19.10" r="3.6" fill="#aecdf9" stroke="#7ea5ea" stroke-width="0.9"/>
<circle cx="429.10" cy="18.90" r="3.6" fill="#aecdf9" stroke="#7ea5ea" stroke-width="0.9"/>
<circle cx="435.50" cy="18.90" r="3.6" fill="#aecdf9" stroke="#7ea5ea" stroke-width="0.9"/>
<circle cx="442.10" cy="19.10" r="3.6" fill="#aecdf9" stroke="#7ea5ea" stroke-width="0.9"/>
<circle cx="448.80" cy="18.60" r="3.6" fill="#aecdf9" stroke="#7ea5ea" stroke-width="0.9"/>
<circle cx="455.40" cy="19.90" r="3.6" fill="#aecdf9" stroke="#7ea5ea" stroke-width="0.9"/>
<circle cx="461.90" cy="21.40" r="3.6" fill="#aecdf9" stroke="#7ea5ea" stroke-width="0.9"/>
<circle cx="468.50" cy="22.90" r="3.6" fill="#aecdf9" stroke="#7ea5ea" stroke-width="0.9"/>
<circle cx="474.90" cy="25.30" r="3.6" fill="#aecdf9" stroke="#7ea5ea" stroke-width="0.9"/>
<circle cx="481.60" cy="28.50" r="3.6" fill="#aecdf9" stroke="#7ea5ea" stroke-width="0.9"/>
<circle cx="488.00" cy="32.60" r="3.6" fill="#aecdf9" stroke="#7ea5ea" stroke-width="0.9"/>
<circle cx="494.60" cy="37.70" r="3.6" fill="#aecdf9" stroke="#7ea5ea" stroke-width="0.9"/>
<circle cx="501.10" cy="43.70" r="3.6" fill="#aecdf9" stroke="#7ea5ea" stroke-width="0.9"/>
<circle cx="507.70" cy="50.80" r="3.6" fill="#aecdf9" stroke="#7ea5ea" stroke-width="0.9"/>
<circle cx="514.10" cy="57.90" r="3.6" fill="#aecdf9" stroke="#7ea5ea" stroke-width="0.9"/>
<circle cx="520.60" cy="65.40" r="3.6" fill="#aecdf9" stroke="#7ea5ea" stroke-width="0.9"/>
<circle cx="527.20" cy="72.90" r="3.6" fill="#aecdf9" stroke="#7ea5ea" stroke-width="0.9"/>
<circle cx="533.90" cy="78.90" r="3.6" fill="#aecdf9" stroke="#7ea5ea" stroke-width="0.9"/>
<circle cx="540.30" cy="82.70" r="3.6" fill="#aecdf9" stroke="#7ea5ea" stroke-width="0.9"/>
<circle cx="546.70" cy="84.30" r="3.6" fill="#aecdf9" stroke="#7ea5ea" stroke-width="0.9"/>
<circle cx="553.60" cy="83.10" r="3.6" fill="#aecdf9" stroke="#7ea5ea" stroke-width="0.9"/>
<circle cx="560.00" cy="79.90" r="3.6" fill="#aecdf9" stroke="#7ea5ea" stroke-width="0.9"/>
<circle cx="566.40" cy="74.60" r="3.6" fill="#aecdf9" stroke="#7ea5ea" stroke-width="0.9"/>
<circle cx="572.90" cy="68.10" r="3.6" fill="#aecdf9" stroke="#7ea5ea" stroke-width="0.9"/>
<circle cx="579.70" cy="60.60" r="3.6" fill="#aecdf9" stroke="#7ea5ea" stroke-width="0.9"/>
<circle cx="586.10" cy="52.90" r="3.6" fill="#aecdf9" stroke="#7ea5ea" stroke-width="0.9"/>
<circle cx="592.60" cy="45.60" r="3.6" fill="#aecdf9" stroke="#7ea5ea" stroke-width="0.9"/>
<circle cx="599.20" cy="39.20" r="3.6" fill="#aecdf9" stroke="#7ea5ea" stroke-width="0.9"/>
<circle cx="605.90" cy="33.60" r="3.6" fill="#aecdf9" stroke="#7ea5ea" stroke-width="0.9"/>
<circle cx="612.30" cy="28.90" r="3.6" fill="#aecdf9" stroke="#7ea5ea" stroke-width="0.9"/>
<circle cx="618.90" cy="25.10" r="3.6" fill="#aecdf9" stroke="#7ea5ea" stroke-width="0.9"/>
<circle cx="625.60" cy="22.30" r="3.6" fill="#aecdf9" stroke="#7ea5ea" stroke-width="0.9"/>
<circle cx="631.80" cy="20.10" r="3.6" fill="#aecdf9" stroke="#7ea5ea" stroke-width="0.9"/>
<circle cx="638.40" cy="18.40" r="3.6" fill="#aecdf9" stroke="#7ea5ea" stroke-width="0.9"/>
<circle cx="645.10" cy="16.90" r="3.6" fill="#aecdf9" stroke="#7ea5ea" stroke-width="0.9"/>
<circle cx="651.50" cy="16.10" r="3.6" fill="#aecdf9" stroke="#7ea5ea" stroke-width="0.9"/>
<circle cx="658.10" cy="15.40" r="3.6" fill="#aecdf9" stroke="#7ea5ea" stroke-width="0.9"/>
<circle cx="664.60" cy="15.00" r="3.6" fill="#aecdf9" stroke="#7ea5ea" stroke-width="0.9"/>
<circle cx="671.20" cy="14.60" r="3.6" fill="#aecdf9" stroke="#7ea5ea" stroke-width="0.9"/>
<circle cx="677.80" cy="14.40" r="3.6" fill="#aecdf9" stroke="#7ea5ea" stroke-width="0.9"/>
<circle cx="684.30" cy="14.10" r="3.6" fill="#aecdf9" stroke="#7ea5ea" stroke-width="0.9"/>
<circle cx="690.70" cy="14.10" r="3.6" fill="#aecdf9" stroke="#7ea5ea" stroke-width="0.9"/>
<circle cx="58.90" cy="291.30" r="3.6" fill="#aecdf9" stroke="#7ea5ea" stroke-width="0.9"/>
<circle cx="65.40" cy="293.10" r="3.6" fill="#aecdf9" stroke="#7ea5ea" stroke-width="0.9"/>
<circle cx="71.80" cy="293.90" r="3.6" fill="#aecdf9" stroke="#7ea5ea" stroke-width="0.9"/>
<circle cx="78.30" cy="293.90" r="3.6" fill="#aecdf9" stroke="#7ea5ea" stroke-width="0.9"/>
<circle cx="84.50" cy="293.30" r="3.6" fill="#aecdf9" stroke="#7ea5ea" stroke-width="0.9"/>
<circle cx="90.80" cy="292.60" r="3.6" fill="#aecdf9" stroke="#7ea5ea" stroke-width="0.9"/>
<circle cx="97.00" cy="291.30" r="3.6" fill="#aecdf9" stroke="#7ea5ea" stroke-width="0.9"/>
<circle cx="103.40" cy="290.80" r="3.6" fill="#aecdf9" stroke="#7ea5ea" stroke-width="0.9"/>
<circle cx="109.70" cy="290.20" r="3.6" fill="#aecdf9" stroke="#7ea5ea" stroke-width="0.9"/>
<circle cx="116.10" cy="290.80" r="3.6" fill="#aecdf9" stroke="#7ea5ea" stroke-width="0.9"/>
<circle cx="122.40" cy="292.80" r="3.6" fill="#aecdf9" stroke="#7ea5ea" stroke-width="0.9"/>
<circle cx="128.60" cy="295.20" r="3.6" fill="#aecdf9" stroke="#7ea5ea" stroke-width="0.9"/>
<circle cx="134.80" cy="299.00" r="3.6" fill="#aecdf9" stroke="#7ea5ea" stroke-width="0.9"/>
<circle cx="141.00" cy="303.70" r="3.6" fill="#aecdf9" stroke="#7ea5ea" stroke-width="0.9"/>
<circle cx="147.50" cy="309.90" r="3.6" fill="#aecdf9" stroke="#7ea5ea" stroke-width="0.9"/>
<circle cx="153.70" cy="318.20" r="3.6" fill="#aecdf9" stroke="#7ea5ea" stroke-width="0.9"/>
<circle cx="159.90" cy="328.10" r="3.6" fill="#aecdf9" stroke="#7ea5ea" stroke-width="0.9"/>
<circle cx="166.40" cy="338.40" r="3.6" fill="#aecdf9" stroke="#7ea5ea" stroke-width="0.9"/>
<circle cx="172.60" cy="349.30" r="3.6" fill="#aecdf9" stroke="#7ea5ea" stroke-width="0.9"/>
<circle cx="179.10" cy="359.70" r="3.6" fill="#aecdf9" stroke="#7ea5ea" stroke-width="0.9"/>
<circle cx="185.60" cy="368.20" r="3.6" fill="#aecdf9" stroke="#7ea5ea" stroke-width="0.9"/>
<circle cx="192.00" cy="375.00" r="3.6" fill="#aecdf9" stroke="#7ea5ea" stroke-width="0.9"/>
<circle cx="198.30" cy="378.80" r="3.6" fill="#aecdf9" stroke="#7ea5ea" stroke-width="0.9"/>
<circle cx="203.60" cy="381.20" r="3.6" fill="#aecdf9" stroke="#7ea5ea" stroke-width="0.9"/>
<circle cx="210.10" cy="379.40" r="3.6" fill="#aecdf9" stroke="#7ea5ea" stroke-width="0.9"/>
<circle cx="216.60" cy="375.00" r="3.6" fill="#aecdf9" stroke="#7ea5ea" stroke-width="0.9"/>
<circle cx="222.80" cy="368.20" r="3.6" fill="#aecdf9" stroke="#7ea5ea" stroke-width="0.9"/>
<circle cx="229.30" cy="359.70" r="3.6" fill="#aecdf9" stroke="#7ea5ea" stroke-width="0.9"/>
<circle cx="235.50" cy="349.80" r="3.6" fill="#aecdf9" stroke="#7ea5ea" stroke-width="0.9"/>
<circle cx="241.70" cy="339.20" r="3.6" fill="#aecdf9" stroke="#7ea5ea" stroke-width="0.9"/>
<circle cx="248.20" cy="328.60" r="3.6" fill="#aecdf9" stroke="#7ea5ea" stroke-width="0.9"/>
<circle cx="254.70" cy="318.70" r="3.6" fill="#aecdf9" stroke="#7ea5ea" stroke-width="0.9"/>
<circle cx="260.90" cy="310.40" r="3.6" fill="#aecdf9" stroke="#7ea5ea" stroke-width="0.9"/>
<circle cx="267.40" cy="302.70" r="3.6" fill="#aecdf9" stroke="#7ea5ea" stroke-width="0.9"/>
<circle cx="273.60" cy="295.70" r="3.6" fill="#aecdf9" stroke="#7ea5ea" stroke-width="0.9"/>
<circle cx="279.80" cy="290.00" r="3.6" fill="#aecdf9" stroke="#7ea5ea" stroke-width="0.9"/>
<circle cx="286.30" cy="285.30" r="3.6" fill="#aecdf9" stroke="#7ea5ea" stroke-width="0.9"/>
<circle cx="292.50" cy="281.70" r="3.6" fill="#aecdf9" stroke="#7ea5ea" stroke-width="0.9"/>
<circle cx="298.70" cy="279.10" r="3.6" fill="#aecdf9" stroke="#7ea5ea" stroke-width="0.9"/>
<circle cx="305.20" cy="277.00" r="3.6" fill="#aecdf9" stroke="#7ea5ea" stroke-width="0.9"/>
<circle cx="311.40" cy="275.20" r="3.6" fill="#aecdf9" stroke="#7ea5ea" stroke-width="0.9"/>
<circle cx="317.60" cy="273.70" r="3.6" fill="#aecdf9" stroke="#7ea5ea" stroke-width="0.9"/>
<circle cx="324.10" cy="272.90" r="3.6" fill="#aecdf9" stroke="#7ea5ea" stroke-width="0.9"/>
<circle cx="330.30" cy="272.10" r="3.6" fill="#aecdf9" stroke="#7ea5ea" stroke-width="0.9"/>
<circle cx="336.50" cy="271.30" r="3.6" fill="#aecdf9" stroke="#7ea5ea" stroke-width="0.9"/>
<circle cx="342.70" cy="270.80" r="3.6" fill="#aecdf9" stroke="#7ea5ea" stroke-width="0.9"/>
<circle cx="349.00" cy="270.50" r="3.6" fill="#aecdf9" stroke="#7ea5ea" stroke-width="0.9"/>
<circle cx="401.00" cy="273.50" r="3.6" fill="#aecdf9" stroke="#7ea5ea" stroke-width="0.9"/>
<circle cx="407.40" cy="274.30" r="3.6" fill="#aecdf9" stroke="#7ea5ea" stroke-width="0.9"/>
<circle cx="413.90" cy="275.10" r="3.6" fill="#aecdf9" stroke="#7ea5ea" stroke-width="0.9"/>
<circle cx="420.30" cy="276.30" r="3.6" fill="#aecdf9" stroke="#7ea5ea" stroke-width="0.9"/>
<circle cx="426.90" cy="277.90" r="3.6" fill="#aecdf9" stroke="#7ea5ea" stroke-width="0.9"/>
<circle cx="433.50" cy="280.50" r="3.6" fill="#aecdf9" stroke="#7ea5ea" stroke-width="0.9"/>
<circle cx="439.80" cy="283.50" r="3.6" fill="#aecdf9" stroke="#7ea5ea" stroke-width="0.9"/>
<circle cx="446.00" cy="287.50" r="3.6" fill="#aecdf9" stroke="#7ea5ea" stroke-width="0.9"/>
<circle cx="452.20" cy="292.30" r="3.6" fill="#aecdf9" stroke="#7ea5ea" stroke-width="0.9"/>
<circle cx="458.80" cy="298.20" r="3.6" fill="#aecdf9" stroke="#7ea5ea" stroke-width="0.9"/>
<circle cx="465.10" cy="305.40" r="3.6" fill="#aecdf9" stroke="#7ea5ea" stroke-width="0.9"/>
<circle cx="471.70" cy="313.80" r="3.6" fill="#aecdf9" stroke="#7ea5ea" stroke-width="0.9"/>
<circle cx="477.90" cy="324.30" r="3.6" fill="#aecdf9" stroke="#7ea5ea" stroke-width="0.9"/>
<circle cx="484.30" cy="336.10" r="3.6" fill="#aecdf9" stroke="#7ea5ea" stroke-width="0.9"/>
<circle cx="490.50" cy="348.80" r="3.6" fill="#aecdf9" stroke="#7ea5ea" stroke-width="0.9"/>
<circle cx="496.90" cy="362.90" r="3.6" fill="#aecdf9" stroke="#7ea5ea" stroke-width="0.9"/>
<circle cx="503.30" cy="376.90" r="3.6" fill="#aecdf9" stroke="#7ea5ea" stroke-width="0.9"/>
<circle cx="509.90" cy="390.40" r="3.6" fill="#aecdf9" stroke="#7ea5ea" stroke-width="0.9"/>
<circle cx="516.30" cy="402.40" r="3.6" fill="#aecdf9" stroke="#7ea5ea" stroke-width="0.9"/>
<circle cx="522.60" cy="412.70" r="3.6" fill="#aecdf9" stroke="#7ea5ea" stroke-width="0.9"/>
<circle cx="529.00" cy="421.30" r="3.6" fill="#aecdf9" stroke="#7ea5ea" stroke-width="0.9"/>
<circle cx="535.80" cy="427.60" r="3.6" fill="#aecdf9" stroke="#7ea5ea" stroke-width="0.9"/>
<circle cx="542.40" cy="430.80" r="3.6" fill="#aecdf9" stroke="#7ea5ea" stroke-width="0.9"/>
<circle cx="548.30" cy="432.00" r="3.6" fill="#aecdf9" stroke="#7ea5ea" stroke-width="0.9"/>
<circle cx="555.10" cy="430.60" r="3.6" fill="#aecdf9" stroke="#7ea5ea" stroke-width="0.9"/>
<circle cx="561.30" cy="426.70" r="3.6" fill="#aecdf9" stroke="#7ea5ea" stroke-width="0.9"/>
<circle cx="567.50" cy="419.70" r="3.6" fill="#aecdf9" stroke="#7ea5ea" stroke-width="0.9"/>
<circle cx="574.30" cy="410.70" r="3.6" fill="#aecdf9" stroke="#7ea5ea" stroke-width="0.9"/>
<circle cx="580.50" cy="399.40" r="3.6" fill="#aecdf9" stroke="#7ea5ea" stroke-width="0.9"/>
<circle cx="586.80" cy="386.80" r="3.6" fill="#aecdf9" stroke="#7ea5ea" stroke-width="0.9"/>
<circle cx="593.20" cy="372.90" r="3.6" fill="#aecdf9" stroke="#7ea5ea" stroke-width="0.9"/>
<circle cx="599.90" cy="359.00" r="3.6" fill="#aecdf9" stroke="#7ea5ea" stroke-width="0.9"/>
<circle cx="606.30" cy="346.00" r="3.6" fill="#aecdf9" stroke="#7ea5ea" stroke-width="0.9"/>
<circle cx="612.90" cy="334.10" r="3.6" fill="#aecdf9" stroke="#7ea5ea" stroke-width="0.9"/>
<circle cx="618.90" cy="323.30" r="3.6" fill="#aecdf9" stroke="#7ea5ea" stroke-width="0.9"/>
<circle cx="625.30" cy="313.40" r="3.6" fill="#aecdf9" stroke="#7ea5ea" stroke-width="0.9"/>
<circle cx="631.90" cy="304.80" r="3.6" fill="#aecdf9" stroke="#7ea5ea" stroke-width="0.9"/>
<circle cx="638.20" cy="297.80" r="3.6" fill="#aecdf9" stroke="#7ea5ea" stroke-width="0.9"/>
<circle cx="644.80" cy="291.90" r="3.6" fill="#aecdf9" stroke="#7ea5ea" stroke-width="0.9"/>
<circle cx="651.20" cy="287.50" r="3.6" fill="#aecdf9" stroke="#7ea5ea" stroke-width="0.9"/>
<circle cx="657.40" cy="283.90" r="3.6" fill="#aecdf9" stroke="#7ea5ea" stroke-width="0.9"/>
<circle cx="663.90" cy="280.90" r="3.6" fill="#aecdf9" stroke="#7ea5ea" stroke-width="0.9"/>
<circle cx="670.10" cy="278.30" r="3.6" fill="#aecdf9" stroke="#7ea5ea" stroke-width="0.9"/>
<circle cx="676.70" cy="276.50" r="3.6" fill="#aecdf9" stroke="#7ea5ea" stroke-width="0.9"/>
<circle cx="682.80" cy="275.10" r="3.6" fill="#aecdf9" stroke="#7ea5ea" stroke-width="0.9"/>
<circle cx="689.20" cy="274.30" r="3.6" fill="#aecdf9" stroke="#7ea5ea" stroke-width="0.9"/>
<path d="M58.20,12.86 C58.53,12.86 59.50,12.87 60.15,12.87 C60.80,12.88 61.45,12.88 62.10,12.88 C62.75,12.89 63.40,12.89 64.05,12.90 C64.70,12.91 65.35,12.91 66.00,12.92 C66.65,12.92 67.30,12.93 67.95,12.94 C68.60,12.94 69.25,12.95 69.90,12.96 C70.55,12.97 71.20,12.98 71.85,12.99 C72.50,12.99 73.15,13.00 73.80,13.01 C74.45,13.03 75.10,13.04 75.75,13.05 C76.40,13.06 77.05,13.07 77.70,13.09 C78.35,13.10 79.00,13.11 79.65,13.13 C80.30,13.14 80.95,13.16 81.60,13.17 C82.25,13.19 82.90,13.21 83.55,13.23 C84.20,13.25 84.85,13.27 85.50,13.29 C86.15,13.31 86.80,13.33 87.46,13.35 C88.11,13.38 88.76,13.40 89.41,13.43 C90.06,13.45 90.71,13.48 91.36,13.51 C92.01,13.54 92.66,13.57 93.31,13.60 C93.96,13.63 94.61,13.67 95.26,13.70 C95.91,13.74 96.56,13.78 97.21,13.81 C97.86,13.85 98.51,13.90 99.16,13.94 C99.81,13.98 100.46,14.03 101.11,14.08 C101.76,14.12 102.41,14.17 103.06,14.22 C103.71,14.28 104.36,14.33 105.01,14.39 C105.66,14.45 106.31,14.51 106.96,14.57 C107.61,14.63 108.26,14.70 108.91,14.76 C109.56,14.83 110.21,14.90 110.86,14.98 C111.51,15.05 112.16,15.13 112.81,15.21 C113.46,15.29 114.11,15.37 114.76,15.46 C115.41,15.54 116.06,15.63 116.71,15.73 C117.36,15.82 118.01,15.92 118.66,16.02 C119.31,16.12 119.96,16.22 120.61,16.33 C121.26,16.44 121.91,16.55 122.56,16.66 C123.21,16.78 123.86,16.90 124.51,17.02 C125.16,17.14 125.81,17.27 126.46,17.40 C127.11,17.53 127.76,17.66 128.41,17.80 C129.06,17.94 129.71,18.08 130.36,18.23 C131.01,18.37 131.66,18.52 132.31,18.68 C132.96,18.83 133.61,18.99 134.26,19.15 C134.91,19.31 135.56,19.48 136.21,19.65 C136.86,19.82 137.51,19.99 138.16,20.17 C138.81,20.35 139.46,20.53 140.11,20.72 C140.76,20.90 141.41,21.09 142.06,21.28 C142.71,21.47 143.36,21.67 144.01,21.87 C144.66,22.07 145.31,22.27 145.97,22.48 C146.62,22.69 147.27,22.90 147.92,23.11 C148.57,23.32 149.22,23.54 149.87,23.75 C150.52,23.97 151.17,24.19 151.82,24.42 C152.47,24.64 153.12,24.87 153.77,25.09 C154.42,25.32 155.07,25.55 155.72,25.79 C156.37,26.02 157.02,26.25 157.67,26.49 C158.32,26.72 158.97,26.96 159.62,27.20 C160.27,27.44 160.92,27.68 161.57,27.92 C162.22,28.16 162.87,28.40 163.52,28.65 C164.17,28.89 164.82,29.13 165.47,29.38 C166.12,29.62 166.77,29.86 167.42,30.11 C168.07,30.35 168.72,30.60 169.37,30.84 C170.02,31.08 170.67,31.33 171.32,31.57 C171.97,31.82 172.62,32.06 173.27,32.31 C173.92,32.55 174.57,32.79 175.22,33.04 C175.87,33.28 176.52,33.52 177.17,33.76 C177.82,34.01 178.47,34.25 179.12,34.49 C179.77,34.74 180.42,34.98 181.07,35.22 C181.72,35.46 182.37,35.71 183.02,35.95 C183.67,36.19 184.32,36.44 184.97,36.68 C185.62,36.93 186.27,37.17 186.92,37.41 C187.57,37.66 188.22,37.90 188.87,38.14 C189.52,38.38 190.17,38.62 190.82,38.86 C191.47,39.09 192.12,39.32 192.77,39.54 C193.42,39.76 194.07,39.97 194.72,40.17 C195.37,40.36 196.02,40.54 196.67,40.69 C197.32,40.84 197.97,40.98 198.62,41.08 C199.27,41.17 199.92,41.24 200.57,41.27 C201.22,41.31 201.87,41.30 202.52,41.28 C203.17,41.27 203.83,41.24 204.48,41.20 C205.13,41.16 205.78,41.10 206.43,41.03 C207.08,40.96 207.73,40.88 208.38,40.78 C209.03,40.69 209.68,40.58 210.33,40.46 C210.98,40.34 211.63,40.21 212.28,40.06 C212.93,39.92 213.58,39.76 214.23,39.60 C214.88,39.43 215.53,39.25 216.18,39.07 C216.83,38.88 217.48,38.68 218.13,38.48 C218.78,38.28 219.43,38.06 220.08,37.84 C220.73,37.62 221.38,37.39 222.03,37.15 C222.68,36.92 223.33,36.67 223.98,36.42 C224.63,36.17 225.28,35.92 225.93,35.66 C226.58,35.40 227.23,35.13 227.88,34.86 C228.53,34.60 229.18,34.32 229.83,34.05 C230.48,33.77 231.13,33.49 231.78,33.21 C232.43,32.93 233.08,32.65 233.73,32.36 C234.38,32.08 235.03,31.79 235.68,31.50 C236.33,31.22 236.98,30.93 237.63,30.64 C238.28,30.36 238.93,30.07 239.58,29.79 C240.23,29.50 240.88,29.21 241.53,28.93 C242.18,28.65 242.83,28.37 243.48,28.09 C244.13,27.81 244.78,27.53 245.43,27.26 C246.08,26.98 246.73,26.71 247.38,26.44 C248.03,26.17 248.68,25.91 249.33,25.65 C249.98,25.38 250.63,25.13 251.28,24.87 C251.93,24.62 252.58,24.37 253.23,24.12 C253.88,23.88 254.53,23.63 255.18,23.40 C255.83,23.16 256.48,22.93 257.13,22.70 C257.78,22.47 258.43,22.25 259.08,22.03 C259.73,21.81 260.38,21.60 261.03,21.39 C261.69,21.19 262.34,20.98 262.99,20.78 C263.64,20.59 264.29,20.39 264.94,20.21 C265.59,20.02 266.24,19.84 266.89,19.66 C267.54,19.48 268.19,19.31 268.84,19.14 C269.49,18.98 270.14,18.82 270.79,18.66 C271.44,18.50 272.09,18.35 272.74,18.20 C273.39,18.06 274.04,17.92 274.69,17.78 C275.34,17.64 275.99,17.51 276.64,17.38 C277.29,17.25 277.94,17.13 278.59,17.01 C279.24,16.89 279.89,16.78 280.54,16.67 C281.19,16.56 281.84,16.45 282.49,16.35 C283.14,16.25 283.79,16.15 284.44,16.06 C285.09,15.97 285.74,15.88 286.39,15.79 C287.04,15.70 287.69,15.62 288.34,15.54 C288.99,15.46 289.64,15.39 290.29,15.32 C290.94,15.24 291.59,15.18 292.24,15.11 C292.89,15.04 293.54,14.98 294.19,14.92 C294.84,14.86 295.49,14.80 296.14,14.75 C296.79,14.69 297.44,14.64 298.09,14.59 C298.74,14.54 299.39,14.50 300.04,14.45 C300.69,14.41 301.34,14.36 301.99,14.32 C302.64,14.28 303.29,14.24 303.94,14.20 C304.59,14.17 305.24,14.13 305.89,14.10 C306.54,14.07 307.19,14.03 307.84,14.00 C308.49,13.97 309.14,13.95 309.79,13.92 C310.44,13.89 311.09,13.87 311.74,13.84 C312.39,13.82 313.04,13.79 313.69,13.77 C314.34,13.75 314.99,13.73 315.64,13.71 C316.29,13.69 316.94,13.67 317.59,13.65 C318.24,13.63 318.89,13.62 319.54,13.60 C320.20,13.58 320.85,13.57 321.50,13.55 C322.15,13.54 322.80,13.53 323.45,13.51 C324.10,13.50 324.75,13.49 325.40,13.47 C326.05,13.46 326.70,13.45 327.35,13.44 C328.00,13.43 328.65,13.42 329.30,13.41 C329.95,13.40 330.60,13.39 331.25,13.38 C331.90,13.37 332.55,13.36 333.20,13.35 C333.85,13.35 334.50,13.34 335.15,13.33 C335.80,13.32 336.45,13.32 337.10,13.31 C337.75,13.30 338.40,13.30 339.05,13.29 C339.70,13.28 340.35,13.28 341.00,13.27 C341.65,13.26 342.30,13.26 342.95,13.25 C343.60,13.25 344.25,13.24 344.90,13.24 C345.55,13.23 346.20,13.23 346.85,13.22 C347.50,13.22 348.47,13.21 348.80,13.21" fill="none" stroke="#000" stroke-width="1.4"/>
<path d="M401.50,13.37 C401.83,13.38 402.80,13.42 403.45,13.44 C404.10,13.46 404.75,13.49 405.40,13.51 C406.05,13.53 406.70,13.56 407.35,13.58 C408.00,13.61 408.65,13.64 409.30,13.66 C409.95,13.69 410.60,13.72 411.26,13.74 C411.91,13.77 412.56,13.80 413.21,13.83 C413.86,13.86 414.51,13.89 415.16,13.92 C415.81,13.95 416.46,13.98 417.11,14.02 C417.76,14.05 418.41,14.08 419.06,14.12 C419.71,14.15 420.36,14.19 421.01,14.23 C421.66,14.26 422.31,14.30 422.96,14.34 C423.61,14.38 424.26,14.42 424.91,14.46 C425.56,14.50 426.21,14.55 426.86,14.59 C427.51,14.64 428.16,14.68 428.81,14.73 C429.46,14.78 430.11,14.83 430.77,14.88 C431.42,14.93 432.07,14.99 432.72,15.04 C433.37,15.10 434.02,15.16 434.67,15.22 C435.32,15.28 435.97,15.34 436.62,15.40 C437.27,15.47 437.92,15.54 438.57,15.61 C439.22,15.68 439.87,15.75 440.52,15.82 C441.17,15.90 441.82,15.98 442.47,16.06 C443.12,16.15 443.77,16.23 444.42,16.32 C445.07,16.41 445.72,16.50 446.37,16.60 C447.02,16.70 447.67,16.80 448.32,16.91 C448.97,17.01 449.62,17.12 450.28,17.24 C450.93,17.35 451.58,17.47 452.23,17.60 C452.88,17.72 453.53,17.85 454.18,17.99 C454.83,18.13 455.48,18.27 456.13,18.42 C456.78,18.57 457.43,18.72 458.08,18.88 C458.73,19.04 459.38,19.21 460.03,19.38 C460.68,19.56 461.33,19.74 461.98,19.93 C462.63,20.12 463.28,20.32 463.93,20.53 C464.58,20.73 465.23,20.94 465.88,21.17 C466.53,21.39 467.18,21.62 467.83,21.86 C468.48,22.10 469.13,22.35 469.79,22.61 C470.44,22.87 471.09,23.14 471.74,23.42 C472.39,23.70 473.04,23.99 473.69,24.29 C474.34,24.59 474.99,24.91 475.64,25.23 C476.29,25.55 476.94,25.88 477.59,26.23 C478.24,26.58 478.89,26.93 479.54,27.30 C480.19,27.67 480.84,28.05 481.49,28.45 C482.14,28.84 482.79,29.25 483.44,29.67 C484.09,30.08 484.74,30.52 485.39,30.96 C486.04,31.40 486.69,31.86 487.34,32.33 C487.99,32.80 488.64,33.28 489.30,33.78 C489.95,34.27 490.60,34.78 491.25,35.30 C491.90,35.82 492.55,36.36 493.20,36.90 C493.85,37.45 494.50,38.01 495.15,38.58 C495.80,39.15 496.45,39.74 497.10,40.33 C497.75,40.93 498.40,41.54 499.05,42.16 C499.70,42.78 500.35,43.41 501.00,44.05 C501.65,44.69 502.30,45.34 502.95,46.00 C503.60,46.67 504.25,47.34 504.90,48.02 C505.55,48.70 506.20,49.39 506.85,50.09 C507.50,50.78 508.16,51.49 508.81,52.20 C509.46,52.91 510.11,53.63 510.76,54.35 C511.41,55.08 512.06,55.80 512.71,56.53 C513.36,57.26 514.01,58.00 514.66,58.73 C515.31,59.47 515.96,60.21 516.61,60.94 C517.26,61.68 517.91,62.41 518.56,63.14 C519.21,63.87 519.86,64.60 520.51,65.33 C521.16,66.05 521.81,66.77 522.46,67.47 C523.11,68.18 523.76,68.89 524.41,69.57 C525.06,70.26 525.71,70.94 526.36,71.61 C527.01,72.27 527.67,72.92 528.32,73.56 C528.97,74.19 529.62,74.81 530.27,75.40 C530.92,76.00 531.57,76.57 532.22,77.13 C532.87,77.68 533.52,78.21 534.17,78.71 C534.82,79.21 535.47,79.69 536.12,80.13 C536.77,80.58 537.42,80.99 538.07,81.38 C538.72,81.76 539.37,82.11 540.02,82.43 C540.67,82.75 541.32,83.03 541.97,83.27 C542.62,83.52 543.27,83.73 543.92,83.90 C544.57,84.07 545.22,84.20 545.87,84.29 C546.52,84.38 547.18,84.44 547.83,84.45 C548.48,84.46 549.13,84.44 549.78,84.37 C550.43,84.30 551.08,84.19 551.73,84.04 C552.38,83.89 553.03,83.70 553.68,83.48 C554.33,83.25 554.98,82.98 555.63,82.68 C556.28,82.38 556.93,82.04 557.58,81.67 C558.23,81.29 558.88,80.88 559.53,80.44 C560.18,80.01 560.83,79.53 561.48,79.03 C562.13,78.53 562.78,78.00 563.43,77.45 C564.08,76.90 564.73,76.32 565.38,75.72 C566.03,75.11 566.69,74.49 567.34,73.85 C567.99,73.21 568.64,72.54 569.29,71.87 C569.94,71.19 570.59,70.49 571.24,69.79 C571.89,69.09 572.54,68.37 573.19,67.64 C573.84,66.91 574.49,66.18 575.14,65.43 C575.79,64.69 576.44,63.94 577.09,63.19 C577.74,62.44 578.39,61.68 579.04,60.92 C579.69,60.16 580.34,59.40 580.99,58.65 C581.64,57.89 582.29,57.13 582.94,56.38 C583.59,55.63 584.24,54.88 584.89,54.13 C585.54,53.39 586.20,52.65 586.85,51.92 C587.50,51.19 588.15,50.46 588.80,49.75 C589.45,49.03 590.10,48.32 590.75,47.62 C591.40,46.92 592.05,46.24 592.70,45.56 C593.35,44.88 594.00,44.21 594.65,43.56 C595.30,42.90 595.95,42.26 596.60,41.63 C597.25,41.00 597.90,40.38 598.55,39.78 C599.20,39.17 599.85,38.58 600.50,38.00 C601.15,37.42 601.80,36.86 602.45,36.31 C603.10,35.76 603.75,35.22 604.40,34.70 C605.06,34.17 605.71,33.66 606.36,33.17 C607.01,32.67 607.66,32.19 608.31,31.72 C608.96,31.26 609.61,30.80 610.26,30.36 C610.91,29.92 611.56,29.50 612.21,29.08 C612.86,28.67 613.51,28.27 614.16,27.89 C614.81,27.50 615.46,27.13 616.11,26.76 C616.76,26.40 617.41,26.06 618.06,25.72 C618.71,25.38 619.36,25.06 620.01,24.75 C620.66,24.43 621.31,24.13 621.96,23.84 C622.61,23.55 623.26,23.28 623.91,23.01 C624.57,22.74 625.22,22.48 625.87,22.23 C626.52,21.98 627.17,21.75 627.82,21.52 C628.47,21.29 629.12,21.07 629.77,20.86 C630.42,20.65 631.07,20.45 631.72,20.25 C632.37,20.06 633.02,19.87 633.67,19.69 C634.32,19.52 634.97,19.35 635.62,19.18 C636.27,19.02 636.92,18.86 637.57,18.71 C638.22,18.56 638.87,18.42 639.52,18.28 C640.17,18.14 640.82,18.01 641.47,17.88 C642.12,17.75 642.77,17.63 643.42,17.52 C644.08,17.40 644.73,17.29 645.38,17.18 C646.03,17.08 646.68,16.97 647.33,16.87 C647.98,16.78 648.63,16.68 649.28,16.59 C649.93,16.50 650.58,16.41 651.23,16.33 C651.88,16.25 652.53,16.17 653.18,16.09 C653.83,16.01 654.48,15.94 655.13,15.87 C655.78,15.80 656.43,15.73 657.08,15.67 C657.73,15.60 658.38,15.54 659.03,15.48 C659.68,15.41 660.33,15.36 660.98,15.30 C661.63,15.24 662.28,15.19 662.93,15.14 C663.59,15.08 664.24,15.03 664.89,14.98 C665.54,14.93 666.19,14.89 666.84,14.84 C667.49,14.79 668.14,14.75 668.79,14.71 C669.44,14.66 670.09,14.62 670.74,14.58 C671.39,14.54 672.04,14.50 672.69,14.46 C673.34,14.42 673.99,14.39 674.64,14.35 C675.29,14.31 675.94,14.28 676.59,14.24 C677.24,14.21 677.89,14.18 678.54,14.14 C679.19,14.11 679.84,14.08 680.49,14.05 C681.14,14.02 681.79,13.99 682.44,13.96 C683.10,13.93 683.75,13.90 684.40,13.87 C685.05,13.84 685.70,13.82 686.35,13.79 C687.00,13.76 687.65,13.74 688.30,13.71 C688.95,13.69 689.60,13.66 690.25,13.64 C690.90,13.61 691.87,13.58 692.20,13.56" fill="none" stroke="#000" stroke-width="1.4"/>
<path d="M58.20,270.31 C58.53,270.34 59.50,270.41 60.15,270.45 C60.80,270.50 61.45,270.55 62.10,270.60 C62.75,270.66 63.40,270.71 64.05,270.76 C64.70,270.82 65.35,270.87 66.00,270.93 C66.65,270.99 67.30,271.05 67.95,271.11 C68.60,271.17 69.25,271.23 69.90,271.30 C70.55,271.36 71.20,271.43 71.85,271.50 C72.50,271.57 73.15,271.64 73.80,271.71 C74.45,271.78 75.10,271.86 75.75,271.94 C76.40,272.02 77.05,272.10 77.70,272.18 C78.35,272.26 79.00,272.35 79.65,272.44 C80.30,272.53 80.95,272.62 81.60,272.72 C82.25,272.82 82.90,272.91 83.55,273.02 C84.20,273.12 84.85,273.23 85.50,273.34 C86.15,273.45 86.80,273.56 87.46,273.68 C88.11,273.80 88.76,273.93 89.41,274.05 C90.06,274.18 90.71,274.32 91.36,274.45 C92.01,274.59 92.66,274.74 93.31,274.88 C93.96,275.03 94.61,275.19 95.26,275.35 C95.91,275.51 96.56,275.68 97.21,275.85 C97.86,276.02 98.51,276.20 99.16,276.39 C99.81,276.57 100.46,276.77 101.11,276.97 C101.76,277.17 102.41,277.38 103.06,277.59 C103.71,277.81 104.36,278.03 105.01,278.27 C105.66,278.50 106.31,278.74 106.96,278.99 C107.61,279.24 108.26,279.50 108.91,279.77 C109.56,280.04 110.21,280.32 110.86,280.61 C111.51,280.90 112.16,281.20 112.81,281.51 C113.46,281.83 114.11,282.15 114.76,282.48 C115.41,282.81 116.06,283.16 116.71,283.52 C117.36,283.87 118.01,284.24 118.66,284.62 C119.31,285.01 119.96,285.40 120.61,285.81 C121.26,286.22 121.91,286.64 122.56,287.07 C123.21,287.51 123.86,287.95 124.51,288.42 C125.16,288.88 125.81,289.36 126.46,289.85 C127.11,290.34 127.76,290.85 128.41,291.37 C129.06,291.89 129.71,292.43 130.36,292.98 C131.01,293.53 131.66,294.10 132.31,294.68 C132.96,295.27 133.61,295.87 134.26,296.48 C134.91,297.10 135.56,297.73 136.21,298.37 C136.86,299.02 137.51,299.69 138.16,300.37 C138.81,301.05 139.46,301.74 140.11,302.46 C140.76,303.17 141.41,303.90 142.06,304.64 C142.71,305.39 143.36,306.15 144.01,306.92 C144.66,307.70 145.31,308.49 145.97,309.30 C146.62,310.11 147.27,310.94 147.92,311.77 C148.57,312.61 149.22,313.47 149.87,314.34 C150.52,315.20 151.17,316.09 151.82,316.98 C152.47,317.88 153.12,318.79 153.77,319.71 C154.42,320.64 155.07,321.57 155.72,322.52 C156.37,323.47 157.02,324.43 157.67,325.40 C158.32,326.37 158.97,327.35 159.62,328.34 C160.27,329.33 160.92,330.33 161.57,331.33 C162.22,332.34 162.87,333.35 163.52,334.37 C164.17,335.39 164.82,336.41 165.47,337.44 C166.12,338.47 166.77,339.51 167.42,340.54 C168.07,341.57 168.72,342.61 169.37,343.64 C170.02,344.68 170.67,345.72 171.32,346.75 C171.97,347.78 172.62,348.81 173.27,349.83 C173.92,350.85 174.57,351.87 175.22,352.87 C175.87,353.88 176.52,354.88 177.17,355.87 C177.82,356.85 178.47,357.83 179.12,358.79 C179.77,359.74 180.42,360.69 181.07,361.61 C181.72,362.54 182.37,363.45 183.02,364.33 C183.67,365.21 184.32,366.08 184.97,366.91 C185.62,367.75 186.27,368.56 186.92,369.34 C187.57,370.12 188.22,370.87 188.87,371.59 C189.52,372.31 190.17,373.00 190.82,373.65 C191.47,374.29 192.12,374.91 192.77,375.48 C193.42,376.05 194.07,376.59 194.72,377.08 C195.37,377.57 196.02,378.02 196.67,378.42 C197.32,378.83 197.97,379.19 198.62,379.50 C199.27,379.81 199.92,380.07 200.57,380.29 C201.22,380.50 201.87,380.67 202.52,380.79 C203.17,380.90 203.83,380.97 204.48,380.99 C205.13,381.00 205.78,380.97 206.43,380.88 C207.08,380.79 207.73,380.65 208.38,380.46 C209.03,380.26 209.68,380.02 210.33,379.72 C210.98,379.42 211.63,379.07 212.28,378.67 C212.93,378.28 213.58,377.83 214.23,377.34 C214.88,376.85 215.53,376.31 216.18,375.73 C216.83,375.15 217.48,374.52 218.13,373.86 C218.78,373.20 219.43,372.49 220.08,371.76 C220.73,371.02 221.38,370.24 222.03,369.44 C222.68,368.63 223.33,367.79 223.98,366.93 C224.63,366.06 225.28,365.17 225.93,364.25 C226.58,363.33 227.23,362.39 227.88,361.43 C228.53,360.47 229.18,359.48 229.83,358.49 C230.48,357.49 231.13,356.47 231.78,355.45 C232.43,354.42 233.08,353.38 233.73,352.33 C234.38,351.28 235.03,350.22 235.68,349.16 C236.33,348.10 236.98,347.03 237.63,345.95 C238.28,344.88 238.93,343.81 239.58,342.73 C240.23,341.66 240.88,340.58 241.53,339.51 C242.18,338.43 242.83,337.36 243.48,336.30 C244.13,335.23 244.78,334.17 245.43,333.11 C246.08,332.06 246.73,331.01 247.38,329.97 C248.03,328.94 248.68,327.91 249.33,326.89 C249.98,325.87 250.63,324.86 251.28,323.87 C251.93,322.87 252.58,321.89 253.23,320.92 C253.88,319.95 254.53,318.99 255.18,318.04 C255.83,317.10 256.48,316.17 257.13,315.26 C257.78,314.35 258.43,313.45 259.08,312.57 C259.73,311.69 260.38,310.82 261.03,309.98 C261.69,309.13 262.34,308.30 262.99,307.48 C263.64,306.67 264.29,305.87 264.94,305.09 C265.59,304.31 266.24,303.55 266.89,302.81 C267.54,302.06 268.19,301.34 268.84,300.63 C269.49,299.92 270.14,299.23 270.79,298.55 C271.44,297.88 272.09,297.22 272.74,296.59 C273.39,295.95 274.04,295.33 274.69,294.72 C275.34,294.12 275.99,293.53 276.64,292.96 C277.29,292.39 277.94,291.84 278.59,291.30 C279.24,290.76 279.89,290.24 280.54,289.74 C281.19,289.23 281.84,288.74 282.49,288.27 C283.14,287.80 283.79,287.34 284.44,286.89 C285.09,286.45 285.74,286.02 286.39,285.61 C287.04,285.19 287.69,284.79 288.34,284.41 C288.99,284.02 289.64,283.65 290.29,283.28 C290.94,282.92 291.59,282.58 292.24,282.24 C292.89,281.90 293.54,281.58 294.19,281.27 C294.84,280.96 295.49,280.66 296.14,280.37 C296.79,280.08 297.44,279.80 298.09,279.53 C298.74,279.26 299.39,279.00 300.04,278.75 C300.69,278.50 301.34,278.26 301.99,278.03 C302.64,277.80 303.29,277.58 303.94,277.37 C304.59,277.15 305.24,276.95 305.89,276.75 C306.54,276.55 307.19,276.36 307.84,276.18 C308.49,276.00 309.14,275.82 309.79,275.65 C310.44,275.48 311.09,275.32 311.74,275.16 C312.39,275.00 313.04,274.85 313.69,274.71 C314.34,274.56 314.99,274.42 315.64,274.29 C316.29,274.15 316.94,274.03 317.59,273.90 C318.24,273.78 318.89,273.66 319.54,273.54 C320.20,273.43 320.85,273.31 321.50,273.21 C322.15,273.10 322.80,273.00 323.45,272.90 C324.10,272.80 324.75,272.70 325.40,272.61 C326.05,272.51 326.70,272.42 327.35,272.34 C328.00,272.25 328.65,272.17 329.30,272.09 C329.95,272.00 330.60,271.93 331.25,271.85 C331.90,271.77 332.55,271.70 333.20,271.63 C333.85,271.56 334.50,271.49 335.15,271.42 C335.80,271.36 336.45,271.29 337.10,271.23 C337.75,271.16 338.40,271.10 339.05,271.04 C339.70,270.99 340.35,270.93 341.00,270.87 C341.65,270.82 342.30,270.76 342.95,270.71 C343.60,270.66 344.25,270.60 344.90,270.55 C345.55,270.50 346.20,270.45 346.85,270.41 C347.50,270.36 348.47,270.29 348.80,270.27" fill="none" stroke="#000" stroke-width="1.4"/>
<path d="M401.50,274.00 C401.83,274.02 402.80,274.06 403.45,274.09 C404.10,274.12 404.75,274.16 405.40,274.20 C406.05,274.24 406.70,274.28 407.35,274.33 C408.00,274.38 408.65,274.43 409.30,274.49 C409.95,274.55 410.60,274.61 411.26,274.68 C411.91,274.75 412.56,274.82 413.21,274.90 C413.86,274.99 414.51,275.07 415.16,275.17 C415.81,275.26 416.46,275.36 417.11,275.47 C417.76,275.58 418.41,275.70 419.06,275.82 C419.71,275.95 420.36,276.08 421.01,276.22 C421.66,276.36 422.31,276.51 422.96,276.67 C423.61,276.83 424.26,276.99 424.91,277.17 C425.56,277.35 426.21,277.54 426.86,277.74 C427.51,277.93 428.16,278.14 428.81,278.36 C429.46,278.58 430.11,278.81 430.77,279.05 C431.42,279.30 432.07,279.55 432.72,279.81 C433.37,280.08 434.02,280.36 434.67,280.65 C435.32,280.94 435.97,281.24 436.62,281.55 C437.27,281.87 437.92,282.20 438.57,282.54 C439.22,282.89 439.87,283.24 440.52,283.61 C441.17,283.98 441.82,284.37 442.47,284.77 C443.12,285.17 443.77,285.59 444.42,286.02 C445.07,286.45 445.72,286.89 446.37,287.36 C447.02,287.82 447.67,288.30 448.32,288.79 C448.97,289.29 449.62,289.80 450.28,290.33 C450.93,290.86 451.58,291.41 452.23,291.97 C452.88,292.53 453.53,293.12 454.18,293.72 C454.83,294.32 455.48,294.94 456.13,295.57 C456.78,296.21 457.43,296.87 458.08,297.55 C458.73,298.22 459.38,298.92 460.03,299.63 C460.68,300.35 461.33,301.09 461.98,301.84 C462.63,302.60 463.28,303.38 463.93,304.18 C464.58,304.98 465.23,305.80 465.88,306.64 C466.53,307.48 467.18,308.34 467.83,309.23 C468.48,310.12 469.13,311.03 469.79,311.96 C470.44,312.89 471.09,313.84 471.74,314.82 C472.39,315.80 473.04,316.80 473.69,317.83 C474.34,318.86 474.99,319.91 475.64,320.98 C476.29,322.06 476.94,323.16 477.59,324.28 C478.24,325.40 478.89,326.56 479.54,327.73 C480.19,328.90 480.84,330.10 481.49,331.32 C482.14,332.54 482.79,333.78 483.44,335.03 C484.09,336.29 484.74,337.56 485.39,338.85 C486.04,340.14 486.69,341.45 487.34,342.77 C487.99,344.09 488.64,345.43 489.30,346.77 C489.95,348.11 490.60,349.47 491.25,350.83 C491.90,352.19 492.55,353.56 493.20,354.94 C493.85,356.31 494.50,357.70 495.15,359.08 C495.80,360.46 496.45,361.85 497.10,363.24 C497.75,364.63 498.40,366.02 499.05,367.41 C499.70,368.79 500.35,370.18 501.00,371.56 C501.65,372.94 502.30,374.32 502.95,375.69 C503.60,377.05 504.25,378.42 504.90,379.77 C505.55,381.12 506.20,382.47 506.85,383.80 C507.50,385.13 508.16,386.45 508.81,387.75 C509.46,389.06 510.11,390.35 510.76,391.62 C511.41,392.89 512.06,394.15 512.71,395.39 C513.36,396.62 514.01,397.84 514.66,399.03 C515.31,400.23 515.96,401.40 516.61,402.55 C517.26,403.70 517.91,404.82 518.56,405.92 C519.21,407.02 519.86,408.09 520.51,409.13 C521.16,410.18 521.81,411.19 522.46,412.18 C523.11,413.17 523.76,414.13 524.41,415.06 C525.06,415.98 525.71,416.88 526.36,417.75 C527.01,418.61 527.67,419.45 528.32,420.25 C528.97,421.05 529.62,421.81 530.27,422.54 C530.92,423.28 531.57,423.97 532.22,424.63 C532.87,425.29 533.52,425.92 534.17,426.50 C534.82,427.09 535.47,427.64 536.12,428.14 C536.77,428.65 537.42,429.12 538.07,429.55 C538.72,429.98 539.37,430.36 540.02,430.71 C540.67,431.05 541.32,431.35 541.97,431.61 C542.62,431.87 543.27,432.08 543.92,432.25 C544.57,432.41 545.22,432.54 545.87,432.61 C546.52,432.69 547.18,432.72 547.83,432.70 C548.48,432.68 549.13,432.61 549.78,432.49 C550.43,432.37 551.08,432.21 551.73,432.00 C552.38,431.79 553.03,431.53 553.68,431.23 C554.33,430.93 554.98,430.59 555.63,430.20 C556.28,429.81 556.93,429.39 557.58,428.92 C558.23,428.45 558.88,427.94 559.53,427.39 C560.18,426.85 560.83,426.26 561.48,425.64 C562.13,425.01 562.78,424.35 563.43,423.66 C564.08,422.97 564.73,422.24 565.38,421.47 C566.03,420.71 566.69,419.92 567.34,419.09 C567.99,418.26 568.64,417.41 569.29,416.52 C569.94,415.63 570.59,414.71 571.24,413.77 C571.89,412.83 572.54,411.85 573.19,410.85 C573.84,409.86 574.49,408.83 575.14,407.78 C575.79,406.74 576.44,405.66 577.09,404.57 C577.74,403.48 578.39,402.36 579.04,401.22 C579.69,400.09 580.34,398.93 580.99,397.75 C581.64,396.58 582.29,395.38 582.94,394.17 C583.59,392.96 584.24,391.73 584.89,390.49 C585.54,389.24 586.20,387.98 586.85,386.71 C587.50,385.44 588.15,384.15 588.80,382.86 C589.45,381.56 590.10,380.26 590.75,378.94 C591.40,377.63 592.05,376.30 592.70,374.97 C593.35,373.64 594.00,372.30 594.65,370.96 C595.30,369.62 595.95,368.28 596.60,366.93 C597.25,365.59 597.90,364.24 598.55,362.89 C599.20,361.54 599.85,360.19 600.50,358.85 C601.15,357.51 601.80,356.16 602.45,354.83 C603.10,353.49 603.75,352.16 604.40,350.84 C605.06,349.52 605.71,348.20 606.36,346.89 C607.01,345.59 607.66,344.29 608.31,343.00 C608.96,341.72 609.61,340.45 610.26,339.19 C610.91,337.93 611.56,336.68 612.21,335.46 C612.86,334.23 613.51,333.02 614.16,331.83 C614.81,330.64 615.46,329.46 616.11,328.31 C616.76,327.16 617.41,326.03 618.06,324.92 C618.71,323.81 619.36,322.73 620.01,321.67 C620.66,320.61 621.31,319.58 621.96,318.57 C622.61,317.56 623.26,316.57 623.91,315.60 C624.57,314.64 625.22,313.70 625.87,312.78 C626.52,311.86 627.17,310.96 627.82,310.09 C628.47,309.21 629.12,308.36 629.77,307.53 C630.42,306.70 631.07,305.89 631.72,305.10 C632.37,304.31 633.02,303.54 633.67,302.79 C634.32,302.04 634.97,301.31 635.62,300.60 C636.27,299.89 636.92,299.20 637.57,298.53 C638.22,297.86 638.87,297.21 639.52,296.58 C640.17,295.94 640.82,295.33 641.47,294.73 C642.12,294.14 642.77,293.56 643.42,293.00 C644.08,292.43 644.73,291.89 645.38,291.36 C646.03,290.83 646.68,290.32 647.33,289.83 C647.98,289.33 648.63,288.85 649.28,288.39 C649.93,287.93 650.58,287.48 651.23,287.05 C651.88,286.62 652.53,286.20 653.18,285.79 C653.83,285.39 654.48,285.00 655.13,284.63 C655.78,284.25 656.43,283.89 657.08,283.54 C657.73,283.20 658.38,282.86 659.03,282.54 C659.68,282.22 660.33,281.91 660.98,281.61 C661.63,281.31 662.28,281.03 662.93,280.76 C663.59,280.48 664.24,280.22 664.89,279.97 C665.54,279.72 666.19,279.48 666.84,279.25 C667.49,279.02 668.14,278.80 668.79,278.59 C669.44,278.38 670.09,278.18 670.74,277.99 C671.39,277.80 672.04,277.62 672.69,277.45 C673.34,277.28 673.99,277.11 674.64,276.96 C675.29,276.80 675.94,276.66 676.59,276.52 C677.24,276.38 677.89,276.24 678.54,276.12 C679.19,275.99 679.84,275.87 680.49,275.76 C681.14,275.65 681.79,275.55 682.44,275.45 C683.10,275.35 683.75,275.25 684.40,275.16 C685.05,275.07 685.70,274.99 686.35,274.91 C687.00,274.83 687.65,274.76 688.30,274.69 C688.95,274.62 689.60,274.56 690.25,274.49 C690.90,274.43 691.87,274.35 692.20,274.32" fill="none" stroke="#000" stroke-width="1.4"/>
<rect x="81.2" y="104.4" width="119" height="30.8" fill="#fff" stroke="#111" stroke-width="1.5"/>
<text transform="translate(56.10,227.70) scale(1.0,1)" font-family="Liberation Sans" font-size="13.9" text-anchor="middle" xml:space="preserve" >-0.3</text>
<text transform="translate(104.77,227.70) scale(1.0,1)" font-family="Liberation Sans" font-size="13.9" text-anchor="middle" xml:space="preserve" >-0.2</text>
<text transform="translate(153.43,227.70) scale(1.0,1)" font-family="Liberation Sans" font-size="13.9" text-anchor="middle" xml:space="preserve" >-0.1</text>
<text transform="translate(202.10,227.70) scale(1.0,1)" font-family="Liberation Sans" font-size="13.9" text-anchor="middle" xml:space="preserve" >0.0</text>
<text transform="translate(250.77,227.70) scale(1.0,1)" font-family="Liberation Sans" font-size="13.9" text-anchor="middle" xml:space="preserve" >0.1</text>
<text transform="translate(299.43,227.70) scale(1.0,1)" font-family="Liberation Sans" font-size="13.9" text-anchor="middle" xml:space="preserve" >0.2</text>
<text transform="translate(348.10,227.70) scale(1.0,1)" font-family="Liberation Sans" font-size="13.9" text-anchor="middle" xml:space="preserve" >0.3</text>
<text transform="translate(47.70,19.90) scale(1.0,1)" font-family="Liberation Sans" font-size="13.9" text-anchor="end" xml:space="preserve" >1.0</text>
<text transform="translate(47.70,140.60) scale(1.0,1)" font-family="Liberation Sans" font-size="13.9" text-anchor="end" xml:space="preserve" >0.5</text>
<text transform="translate(399.40,227.70) scale(1.0,1)" font-family="Liberation Sans" font-size="13.9" text-anchor="middle" xml:space="preserve" >-0.3</text>
<text transform="translate(448.08,227.70) scale(1.0,1)" font-family="Liberation Sans" font-size="13.9" text-anchor="middle" xml:space="preserve" >-0.2</text>
<text transform="translate(496.77,227.70) scale(1.0,1)" font-family="Liberation Sans" font-size="13.9" text-anchor="middle" xml:space="preserve" >-0.1</text>
<text transform="translate(545.45,227.70) scale(1.0,1)" font-family="Liberation Sans" font-size="13.9" text-anchor="middle" xml:space="preserve" >0.0</text>
<text transform="translate(594.13,227.70) scale(1.0,1)" font-family="Liberation Sans" font-size="13.9" text-anchor="middle" xml:space="preserve" >0.1</text>
<text transform="translate(642.82,227.70) scale(1.0,1)" font-family="Liberation Sans" font-size="13.9" text-anchor="middle" xml:space="preserve" >0.2</text>
<text transform="translate(691.50,227.70) scale(1.0,1)" font-family="Liberation Sans" font-size="13.9" text-anchor="middle" xml:space="preserve" >0.3</text>
<text transform="translate(391.40,19.90) scale(1.0,1)" font-family="Liberation Sans" font-size="13.9" text-anchor="end" xml:space="preserve" >1.0</text>
<text transform="translate(391.40,140.60) scale(1.0,1)" font-family="Liberation Sans" font-size="13.9" text-anchor="end" xml:space="preserve" >0.5</text>
<text transform="translate(56.10,483.50) scale(1.0,1)" font-family="Liberation Sans" font-size="13.9" text-anchor="middle" xml:space="preserve" >-0.3</text>
<text transform="translate(104.77,483.50) scale(1.0,1)" font-family="Liberation Sans" font-size="13.9" text-anchor="middle" xml:space="preserve" >-0.2</text>
<text transform="translate(153.43,483.50) scale(1.0,1)" font-family="Liberation Sans" font-size="13.9" text-anchor="middle" xml:space="preserve" >-0.1</text>
<text transform="translate(202.10,483.50) scale(1.0,1)" font-family="Liberation Sans" font-size="13.9" text-anchor="middle" xml:space="preserve" >0.0</text>
<text transform="translate(250.77,483.50) scale(1.0,1)" font-family="Liberation Sans" font-size="13.9" text-anchor="middle" xml:space="preserve" >0.1</text>
<text transform="translate(299.43,483.50) scale(1.0,1)" font-family="Liberation Sans" font-size="13.9" text-anchor="middle" xml:space="preserve" >0.2</text>
<text transform="translate(348.10,483.50) scale(1.0,1)" font-family="Liberation Sans" font-size="13.9" text-anchor="middle" xml:space="preserve" >0.3</text>
<text transform="translate(47.70,275.40) scale(1.0,1)" font-family="Liberation Sans" font-size="13.9" text-anchor="end" xml:space="preserve" >1.0</text>
<text transform="translate(47.70,396.10) scale(1.0,1)" font-family="Liberation Sans" font-size="13.9" text-anchor="end" xml:space="preserve" >0.5</text>
<text transform="translate(399.40,483.50) scale(1.0,1)" font-family="Liberation Sans" font-size="13.9" text-anchor="middle" xml:space="preserve" >-0.3</text>
<text transform="translate(448.08,483.50) scale(1.0,1)" font-family="Liberation Sans" font-size="13.9" text-anchor="middle" xml:space="preserve" >-0.2</text>
<text transform="translate(496.77,483.50) scale(1.0,1)" font-family="Liberation Sans" font-size="13.9" text-anchor="middle" xml:space="preserve" >-0.1</text>
<text transform="translate(545.45,483.50) scale(1.0,1)" font-family="Liberation Sans" font-size="13.9" text-anchor="middle" xml:space="preserve" >0.0</text>
<text transform="translate(594.13,483.50) scale(1.0,1)" font-family="Liberation Sans" font-size="13.9" text-anchor="middle" xml:space="preserve" >0.1</text>
<text transform="translate(642.82,483.50) scale(1.0,1)" font-family="Liberation Sans" font-size="13.9" text-anchor="middle" xml:space="preserve" >0.2</text>
<text transform="translate(691.50,483.50) scale(1.0,1)" font-family="Liberation Sans" font-size="13.9" text-anchor="middle" xml:space="preserve" >0.3</text>
<text transform="translate(391.40,275.40) scale(1.0,1)" font-family="Liberation Sans" font-size="13.9" text-anchor="end" xml:space="preserve" >1.0</text>
<text transform="translate(391.40,396.10) scale(1.0,1)" font-family="Liberation Sans" font-size="13.9" text-anchor="end" xml:space="preserve" >0.5</text>
<text transform="translate(-0.60,79.10) scale(1.0,1)" font-family="Liberation Sans" font-size="16" text-anchor="start" xml:space="preserve" >F/F</text>
<text transform="translate(22.90,84.60) scale(1.0,1)" font-family="Liberation Sans" font-size="12.3" text-anchor="start" xml:space="preserve" >c</text>
<text transform="translate(-0.60,334.60) scale(1.0,1)" font-family="Liberation Sans" font-size="16" text-anchor="start" xml:space="preserve" >F/F</text>
<text transform="translate(22.90,340.10) scale(1.0,1)" font-family="Liberation Sans" font-size="12.3" text-anchor="start" xml:space="preserve" >c</text>
<text transform="translate(81.60,178.00) scale(1.0,1)" font-family="Liberation Sans" font-size="13.3" text-anchor="start" xml:space="preserve" >a)</text>
<text transform="translate(425.10,178.00) scale(1.0,1)" font-family="Liberation Sans" font-size="13.3" text-anchor="start" xml:space="preserve" >b)</text>
<text transform="translate(81.60,433.50) scale(1.0,1)" font-family="Liberation Sans" font-size="13.3" text-anchor="start" xml:space="preserve" >c)</text>
<text transform="translate(425.10,433.50) scale(1.0,1)" font-family="Liberation Sans" font-size="13.3" text-anchor="start" xml:space="preserve" >d)</text>
<text transform="translate(247.00,161.00) scale(1.0,1)" font-family="Liberation Sans" font-size="13.3" text-anchor="start" xml:space="preserve" >V</text>
<text transform="translate(260.40,161.00) scale(1.0,1)" font-family="Liberation Sans" font-size="13.3" text-anchor="start" xml:space="preserve" >I</text>
<text transform="translate(273.00,161.00) scale(1.0,1)" font-family="Liberation Serif" font-size="14" text-anchor="start" xml:space="preserve" >&#955;</text>
<text transform="translate(280.40,161.00) scale(1.0,1)" font-family="Liberation Sans" font-size="13.3" text-anchor="start" xml:space="preserve" >6266</text>
<text transform="translate(269.20,178.00) scale(1.0,1)" font-family="Liberation Sans" font-size="13.3" text-anchor="start" xml:space="preserve" >0.29</text>
<text transform="translate(298.40,178.00) scale(1.0,1)" font-family="Liberation Sans" font-size="13.3" text-anchor="start" xml:space="preserve" >eV</text>
<text transform="translate(590.40,161.00) scale(1.0,1)" font-family="Liberation Sans" font-size="13.3" text-anchor="start" xml:space="preserve" >Fe</text>
<text transform="translate(610.50,161.00) scale(1.0,1)" font-family="Liberation Sans" font-size="13.3" text-anchor="start" xml:space="preserve" >I</text>
<text transform="translate(623.60,161.00) scale(1.0,1)" font-family="Liberation Serif" font-size="14" text-anchor="start" xml:space="preserve" >&#955;</text>
<text transform="translate(632.00,161.00) scale(1.0,1)" font-family="Liberation Sans" font-size="13.3" text-anchor="start" xml:space="preserve" >6227</text>
<text transform="translate(612.70,178.00) scale(1.0,1)" font-family="Liberation Sans" font-size="13.3" text-anchor="start" xml:space="preserve" >3.88</text>
<text transform="translate(641.90,178.00) scale(1.0,1)" font-family="Liberation Sans" font-size="13.3" text-anchor="start" xml:space="preserve" >eV</text>
<text transform="translate(246.90,416.50) scale(1.0,1)" font-family="Liberation Sans" font-size="13.3" text-anchor="start" xml:space="preserve" >Fe</text>
<text transform="translate(267.00,416.50) scale(1.0,1)" font-family="Liberation Sans" font-size="13.3" text-anchor="start" xml:space="preserve" >I</text>
<text transform="translate(280.10,416.50) scale(1.0,1)" font-family="Liberation Serif" font-size="14" text-anchor="start" xml:space="preserve" >&#955;</text>
<text transform="translate(288.50,416.50) scale(1.0,1)" font-family="Liberation Sans" font-size="13.3" text-anchor="start" xml:space="preserve" >6270</text>
<text transform="translate(269.20,433.50) scale(1.0,1)" font-family="Liberation Sans" font-size="13.3" text-anchor="start" xml:space="preserve" >2.86</text>
<text transform="translate(298.40,433.50) scale(1.0,1)" font-family="Liberation Sans" font-size="13.3" text-anchor="start" xml:space="preserve" >eV</text>
<text transform="translate(590.40,416.50) scale(1.0,1)" font-family="Liberation Sans" font-size="13.3" text-anchor="start" xml:space="preserve" >Fe</text>
<text transform="translate(610.50,416.50) scale(1.0,1)" font-family="Liberation Sans" font-size="13.3" text-anchor="start" xml:space="preserve" >I</text>
<text transform="translate(623.60,416.50) scale(1.0,1)" font-family="Liberation Serif" font-size="14" text-anchor="start" xml:space="preserve" >&#955;</text>
<text transform="translate(632.00,416.50) scale(1.0,1)" font-family="Liberation Sans" font-size="13.3" text-anchor="start" xml:space="preserve" >6253</text>
<text transform="translate(612.70,433.50) scale(1.0,1)" font-family="Liberation Sans" font-size="13.3" text-anchor="start" xml:space="preserve" >2.40</text>
<text transform="translate(641.90,433.50) scale(1.0,1)" font-family="Liberation Sans" font-size="13.3" text-anchor="start" xml:space="preserve" >eV</text>
<text transform="translate(88.50,124.30) scale(1.04,1)" font-family="Liberation Serif" font-size="16" text-anchor="start" xml:space="preserve" >&#946;</text>
<text transform="translate(101.30,124.30) scale(1.04,1)" font-family="Liberation Sans" font-size="15" text-anchor="start" xml:space="preserve" >Her</text>
<text transform="translate(140.00,124.30) scale(1.04,1)" font-family="Liberation Sans" font-size="15" text-anchor="start" xml:space="preserve" >G7</text>
<text transform="translate(167.20,124.30) scale(1.04,1)" font-family="Liberation Serif" font-size="15" text-anchor="start" xml:space="preserve" letter-spacing="-0.3">III</text>
<text transform="translate(183.00,124.30) scale(1.04,1)" font-family="Liberation Sans" font-size="15" text-anchor="start" xml:space="preserve" >a</text>
<text transform="translate(263.20,502.20) scale(1.0,1)" font-family="Liberation Serif" font-size="18" text-anchor="start" xml:space="preserve" style="stroke-width:0.35px">&#916;&#955;</text>
<text transform="translate(607.70,502.20) scale(1.0,1)" font-family="Liberation Serif" font-size="18" text-anchor="start" xml:space="preserve" style="stroke-width:0.35px">&#916;&#955;</text>
<g transform="translate(0,0)" fill="none" stroke="#000"><path d="M253.0,172.0 L247.7,180.6" stroke-width="1.55" stroke-linecap="round"/><path d="M247.1,173.2 C247.4,171.5 248.9,171.2 249.6,173.3 L252.1,179.6 C252.6,180.9 253.5,180.9 254.1,180.0" stroke-width="1.1"/></g>
<g transform="translate(0,0)" fill="#000"><rect x="258.9" y="172.8" width="6.8" height="1.25"/><rect x="258.9" y="175.6" width="6.8" height="1.25"/></g>
<g transform="translate(343.5,0)" fill="none" stroke="#000"><path d="M253.0,172.0 L247.7,180.6" stroke-width="1.55" stroke-linecap="round"/><path d="M247.1,173.2 C247.4,171.5 248.9,171.2 249.6,173.3 L252.1,179.6 C252.6,180.9 253.5,180.9 254.1,180.0" stroke-width="1.1"/></g>
<g transform="translate(343.5,0)" fill="#000"><rect x="258.9" y="172.8" width="6.8" height="1.25"/><rect x="258.9" y="175.6" width="6.8" height="1.25"/></g>
<g transform="translate(0,255.5)" fill="none" stroke="#000"><path d="M253.0,172.0 L247.7,180.6" stroke-width="1.55" stroke-linecap="round"/><path d="M247.1,173.2 C247.4,171.5 248.9,171.2 249.6,173.3 L252.1,179.6 C252.6,180.9 253.5,180.9 254.1,180.0" stroke-width="1.1"/></g>
<g transform="translate(0,255.5)" fill="#000"><rect x="258.9" y="172.8" width="6.8" height="1.25"/><rect x="258.9" y="175.6" width="6.8" height="1.25"/></g>
<g transform="translate(343.5,255.5)" fill="none" stroke="#000"><path d="M253.0,172.0 L247.7,180.6" stroke-width="1.55" stroke-linecap="round"/><path d="M247.1,173.2 C247.4,171.5 248.9,171.2 249.6,173.3 L252.1,179.6 C252.6,180.9 253.5,180.9 254.1,180.0" stroke-width="1.1"/></g>
<g transform="translate(343.5,255.5)" fill="#000"><rect x="258.9" y="172.8" width="6.8" height="1.25"/><rect x="258.9" y="175.6" width="6.8" height="1.25"/></g>
</svg>
</body></html>
